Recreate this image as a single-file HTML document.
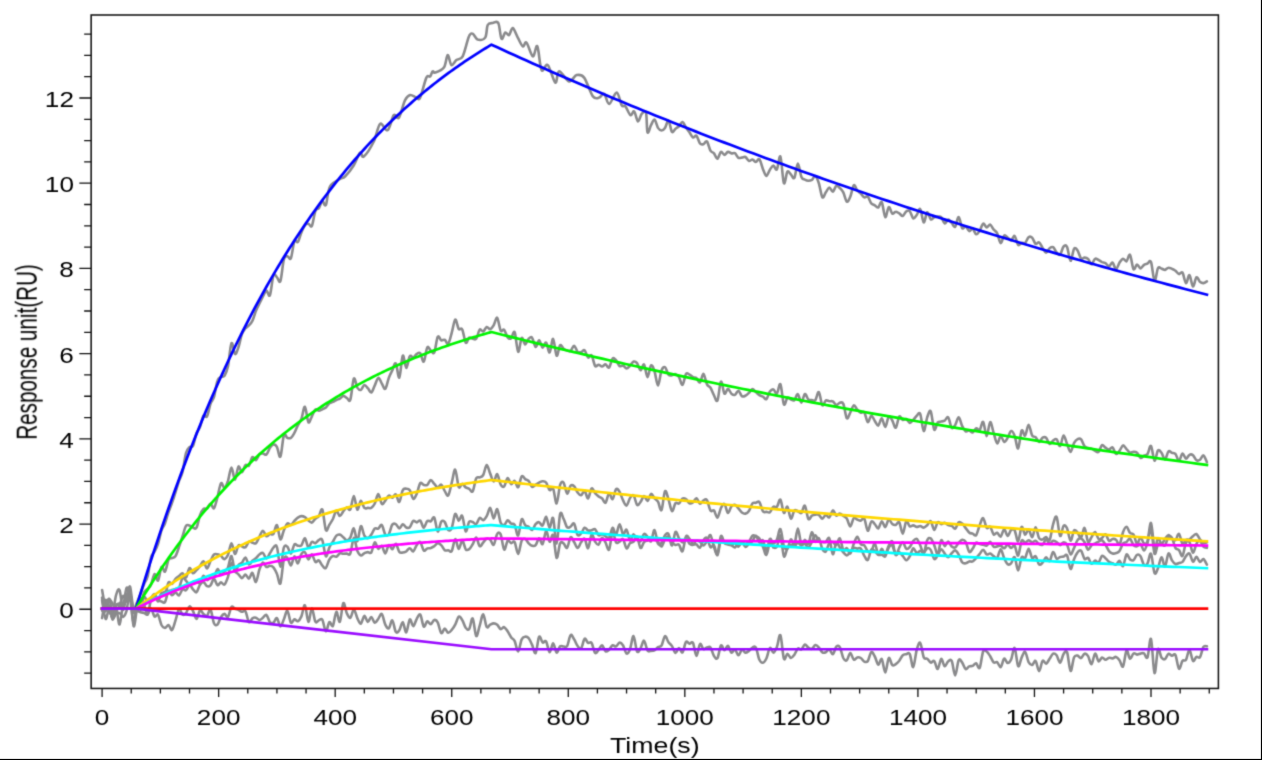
<!DOCTYPE html>
<html><head><meta charset="utf-8"><title>Sensorgram</title>
<style>html,body{margin:0;padding:0;background:#fff;}body{width:1262px;height:760px;overflow:hidden;font-family:"Liberation Sans",sans-serif;}svg{display:block;}</style>
</head><body>
<svg width="1262" height="760" viewBox="0 0 1262 760">
<defs><filter id="soft" x="-2%" y="-2%" width="104%" height="104%" color-interpolation-filters="sRGB"><feConvolveMatrix order="3" kernelMatrix="0.0225 0.1050 0.0225 0.1050 0.4900 0.1050 0.0225 0.1050 0.0225" divisor="1" edgeMode="none" preserveAlpha="false"/></filter></defs>
<rect x="0" y="0" width="1262" height="760" fill="#fff"/>
<rect x="1260.9" y="0" width="1.1" height="760" fill="#000"/>
<rect x="0" y="758.9" width="1262" height="1.1" fill="#000"/>
<g filter="url(#soft)">
<path d="M102.10,688.45v8.6 M131.24,688.45v5.0 M160.37,688.45v5.0 M189.51,688.45v5.0 M218.64,688.45v8.6 M247.78,688.45v5.0 M276.92,688.45v5.0 M306.05,688.45v5.0 M335.19,688.45v8.6 M364.32,688.45v5.0 M393.46,688.45v5.0 M422.60,688.45v5.0 M451.73,688.45v8.6 M480.87,688.45v5.0 M510.00,688.45v5.0 M539.14,688.45v5.0 M568.28,688.45v8.6 M597.41,688.45v5.0 M626.55,688.45v5.0 M655.68,688.45v5.0 M684.82,688.45v8.6 M713.96,688.45v5.0 M743.09,688.45v5.0 M772.23,688.45v5.0 M801.36,688.45v8.6 M830.50,688.45v5.0 M859.64,688.45v5.0 M888.77,688.45v5.0 M917.91,688.45v8.6 M947.04,688.45v5.0 M976.18,688.45v5.0 M1005.32,688.45v5.0 M1034.45,688.45v8.6 M1063.59,688.45v5.0 M1092.72,688.45v5.0 M1121.86,688.45v5.0 M1151.00,688.45v8.6 M1180.13,688.45v5.0 M1209.27,688.45v5.0 M91.15,673.18h-7.0 M91.15,651.88h-7.0 M91.15,630.57h-7.0 M91.15,609.27h-11.8 M91.15,587.97h-7.0 M91.15,566.66h-7.0 M91.15,545.36h-7.0 M91.15,524.06h-11.8 M91.15,502.75h-7.0 M91.15,481.45h-7.0 M91.15,460.15h-7.0 M91.15,438.84h-11.8 M91.15,417.54h-7.0 M91.15,396.24h-7.0 M91.15,374.93h-7.0 M91.15,353.63h-11.8 M91.15,332.32h-7.0 M91.15,311.02h-7.0 M91.15,289.72h-7.0 M91.15,268.41h-11.8 M91.15,247.11h-7.0 M91.15,225.81h-7.0 M91.15,204.50h-7.0 M91.15,183.20h-11.8 M91.15,161.90h-7.0 M91.15,140.59h-7.0 M91.15,119.29h-7.0 M91.15,97.99h-11.8 M91.15,76.68h-7.0 M91.15,55.38h-7.0 M91.15,34.08h-7.0" stroke="#111" stroke-width="1.3" fill="none"/>
<g fill="none" stroke="#8a8a8c" stroke-width="2.6" stroke-linejoin="round" stroke-linecap="round">
<path d="M102.1,610.7C102.7,609.4 104.4,605.1 105.6,603.2C106.8,601.3 107.9,599.0 109.1,599.1C110.3,599.2 111.4,602.0 112.6,603.9C113.8,605.8 114.9,610.3 116.1,610.5C117.3,610.7 118.4,607.8 119.6,605.4C120.7,602.9 121.9,596.5 123.1,595.9C124.2,595.2 125.4,600.7 126.6,601.3C127.7,601.9 128.9,598.4 130.1,599.7C131.2,601.0 132.4,608.6 133.6,609.0C134.7,609.4 135.9,604.9 137.1,602.3C138.2,599.7 139.4,596.5 140.6,593.5C141.7,590.4 142.9,586.9 144.1,584.0C145.2,581.2 146.4,580.8 147.6,576.4C148.7,572.0 149.9,561.7 151.0,557.6C152.2,553.4 153.4,553.9 154.5,551.6C155.7,549.3 156.9,547.3 158.0,543.8C159.2,540.2 160.4,533.7 161.5,530.2C162.7,526.8 163.9,526.3 165.0,523.2C166.2,520.2 167.4,515.3 168.5,512.0C169.7,508.6 170.9,506.2 172.0,502.9C173.2,499.6 174.4,495.8 175.5,492.1C176.7,488.5 177.9,484.3 179.0,480.9C180.2,477.5 181.3,476.6 182.5,471.9C183.7,467.3 184.8,457.1 186.0,453.0C187.2,448.9 188.3,448.4 189.5,447.2C190.7,446.0 191.8,448.2 193.0,445.9C194.2,443.5 195.3,436.3 196.5,433.2C197.7,430.0 198.8,430.0 200.0,427.1C201.2,424.2 202.3,417.5 203.5,415.7C204.7,413.9 205.8,418.3 207.0,416.3C208.2,414.3 209.3,407.0 210.5,403.8C211.7,400.5 212.8,400.8 214.0,396.9C215.1,393.1 216.3,383.9 217.5,380.6C218.6,377.2 219.8,377.7 221.0,376.9C222.1,376.1 223.3,377.5 224.5,375.8C225.6,374.0 226.8,371.8 228.0,366.3C229.1,360.9 230.3,345.2 231.5,343.2C232.6,341.1 233.8,353.3 235.0,354.0C236.1,354.7 237.3,350.5 238.5,347.1C239.6,343.8 240.8,337.0 242.0,333.9C243.1,330.7 244.3,329.7 245.4,328.3C246.6,326.9 247.8,326.7 248.9,325.4C250.1,324.2 251.3,323.3 252.4,320.8C253.6,318.4 254.8,313.8 255.9,310.9C257.1,308.0 258.3,305.9 259.4,303.5C260.6,301.1 261.8,298.6 262.9,296.4C264.1,294.3 265.3,290.8 266.4,290.6C267.6,290.4 268.8,297.8 269.9,295.2C271.1,292.7 272.3,278.4 273.4,275.4C274.6,272.4 275.8,276.2 276.9,277.2C278.1,278.1 279.2,284.0 280.4,281.0C281.6,278.0 282.7,263.5 283.9,259.4C285.1,255.3 286.2,256.4 287.4,256.2C288.6,256.0 289.7,260.6 290.9,258.1C292.1,255.6 293.2,243.9 294.4,241.2C295.6,238.5 296.7,243.3 297.9,241.9C299.1,240.4 300.2,235.2 301.4,232.5C302.6,229.7 303.7,226.7 304.9,225.3C306.1,223.8 307.2,223.7 308.4,223.8C309.5,223.9 310.7,228.1 311.9,225.9C313.0,223.8 314.2,213.9 315.4,211.0C316.5,208.0 317.7,209.7 318.9,208.1C320.0,206.4 321.2,201.6 322.4,201.1C323.5,200.6 324.6,207.5 325.9,205.0C327.1,202.6 327.6,190.9 330.0,186.5C332.4,182.2 337.5,180.7 340.0,179.0C342.5,177.3 342.7,178.8 345.0,176.5C347.3,174.2 351.3,169.2 353.8,165.2C356.3,161.3 358.4,154.2 360.0,152.7C361.7,151.3 361.5,158.4 363.8,156.5C366.1,154.6 371.1,146.9 373.8,141.5C376.5,136.0 377.8,125.8 380.1,123.9C382.4,122.1 385.3,131.7 387.6,130.2C389.9,128.7 392.0,117.3 393.8,115.2C395.7,113.1 397.0,120.2 398.9,117.7C400.7,115.2 403.2,103.9 405.1,100.2C407.0,96.4 408.2,95.6 410.1,95.1C412.0,94.7 414.7,97.2 416.4,97.6C418.0,98.1 418.5,101.0 420.1,97.6C421.8,94.3 424.7,81.2 426.4,77.6C428.1,74.1 429.1,77.4 430.2,76.4C431.2,75.3 431.8,72.0 432.7,71.4C433.5,70.7 433.3,73.2 435.2,72.6C437.0,72.0 441.8,70.5 443.9,67.6C446.0,64.7 446.4,55.5 447.7,55.1C448.9,54.7 450.0,64.3 451.4,65.1C452.9,65.9 454.6,61.6 456.4,60.1C458.3,58.6 460.6,60.3 462.7,56.3C464.8,52.4 467.3,40.1 469.0,36.3C470.6,32.5 471.3,33.3 472.7,33.8C474.2,34.3 475.6,38.9 477.7,39.6C479.8,40.2 483.6,40.0 485.2,37.6C486.9,35.1 486.5,27.5 487.7,25.0C489.0,22.6 491.0,23.4 492.7,23.0C494.5,22.7 496.8,20.4 498.3,23.0C499.7,25.7 500.3,37.2 501.5,38.8C502.7,40.4 504.0,33.2 505.3,32.5C506.5,31.9 507.8,35.8 509.0,35.1C510.3,34.3 511.3,27.6 512.8,28.0C514.2,28.5 516.1,34.5 517.8,37.6C519.5,40.6 521.3,45.5 522.8,46.3C524.2,47.2 524.9,40.9 526.5,42.6C528.2,44.2 531.0,55.7 532.8,56.3C534.6,57.0 535.9,44.0 537.3,46.3C538.8,48.6 539.8,67.0 541.6,70.1C543.3,73.2 545.5,63.0 547.8,65.1C550.1,67.2 553.5,81.6 555.3,82.6C557.2,83.7 556.8,71.6 559.1,71.4C561.4,71.1 566.2,80.7 569.1,81.4C572.0,82.0 574.1,75.7 576.6,75.1C579.1,74.5 581.4,74.1 584.1,77.6C586.8,81.2 590.4,93.1 592.9,96.4C595.4,99.7 597.3,98.1 599.2,97.6C601.0,97.2 602.5,92.8 604.2,93.9C605.8,94.9 607.1,104.1 609.2,103.9C611.3,103.7 614.6,92.4 616.7,92.6C618.8,92.8 620.2,102.9 621.7,105.2C623.1,107.5 624.0,104.7 625.4,106.4C626.9,108.1 629.0,114.3 630.5,115.2C631.9,116.0 633.0,110.4 634.2,111.4C635.5,112.5 636.7,121.0 638.0,121.4C639.2,121.8 640.4,115.4 641.7,113.9C643.1,112.5 645.0,109.6 646.0,112.7C646.9,115.7 646.7,130.2 647.5,132.3C648.4,134.4 649.9,127.3 651.0,125.2C652.2,123.1 653.4,119.1 654.5,119.5C655.7,119.9 656.8,126.0 658.0,127.9C659.2,129.7 660.3,130.5 661.5,130.5C662.7,130.5 663.8,129.7 665.0,128.0C666.2,126.4 667.3,120.0 668.5,120.7C669.7,121.3 670.8,130.6 672.0,131.9C673.2,133.2 674.3,129.6 675.5,128.7C676.7,127.7 677.8,127.3 679.0,126.2C680.2,125.1 681.3,121.8 682.5,122.0C683.7,122.2 684.8,125.9 686.0,127.6C687.2,129.3 688.3,130.7 689.5,132.3C690.6,134.0 691.8,136.9 693.0,137.5C694.1,138.0 695.3,134.7 696.5,135.7C697.6,136.7 698.8,142.0 700.0,143.5C701.1,144.9 702.3,144.5 703.5,144.2C704.6,143.9 705.8,140.4 707.0,141.5C708.1,142.6 709.3,148.8 710.5,150.7C711.6,152.7 712.8,152.0 714.0,153.3C715.1,154.6 716.3,159.0 717.5,158.7C718.6,158.5 719.8,152.4 720.9,151.8C722.1,151.2 723.3,154.9 724.4,154.9C725.6,154.9 726.8,152.1 727.9,151.9C729.1,151.6 730.3,153.1 731.4,153.4C732.6,153.6 733.8,152.5 734.9,153.2C736.1,154.0 737.3,157.1 738.4,157.8C739.6,158.5 740.8,157.8 741.9,157.6C743.1,157.5 744.3,156.5 745.4,157.0C746.6,157.6 747.8,160.5 748.9,160.9C750.1,161.3 751.3,159.3 752.4,159.5C753.6,159.7 754.7,162.0 755.9,162.0C757.1,162.0 758.2,158.1 759.4,159.3C760.6,160.4 761.7,166.1 762.9,168.9C764.1,171.7 765.2,175.7 766.4,175.9C767.6,176.0 768.7,171.4 769.9,169.7C771.1,168.0 772.2,165.7 773.4,165.6C774.6,165.6 775.7,171.0 776.9,169.4C778.1,167.9 779.2,154.2 780.4,156.5C781.6,158.8 782.7,180.5 783.9,183.1C785.0,185.6 786.2,173.1 787.4,171.7C788.5,170.2 789.7,173.4 790.9,174.4C792.0,175.5 793.2,179.7 794.4,177.8C795.5,176.0 796.7,163.7 797.9,163.5C799.0,163.4 800.2,174.2 801.4,176.9C802.5,179.6 803.7,178.9 804.9,179.6C806.0,180.2 807.2,180.7 808.4,180.8C809.5,180.8 810.7,180.7 811.9,179.9C813.0,179.1 814.2,175.5 815.3,176.1C816.5,176.6 817.7,179.6 818.8,183.1C820.0,186.7 821.2,195.7 822.3,197.2C823.5,198.8 824.7,194.0 825.8,192.3C827.0,190.7 828.2,187.6 829.3,187.5C830.5,187.4 831.7,192.0 832.8,191.7C834.0,191.4 835.2,186.4 836.3,185.8C837.5,185.2 838.7,187.0 839.8,188.1C841.0,189.2 842.2,190.2 843.3,192.4C844.5,194.7 845.7,200.9 846.8,201.6C848.0,202.3 849.1,199.4 850.3,196.7C851.5,194.0 852.6,186.3 853.8,185.3C855.0,184.2 856.1,189.1 857.3,190.5C858.5,191.9 859.6,192.4 860.8,193.5C862.0,194.7 863.1,196.9 864.3,197.4C865.5,197.9 866.6,195.6 867.8,196.6C869.0,197.6 870.1,201.9 871.3,203.4C872.5,204.8 873.6,204.6 874.8,205.3C876.0,206.0 877.1,208.0 878.3,207.5C879.4,207.0 880.6,200.6 881.8,202.2C882.9,203.8 884.1,216.3 885.3,217.1C886.4,217.9 887.6,207.7 888.8,207.1C889.9,206.5 891.1,212.8 892.3,213.6C893.4,214.4 894.6,211.8 895.8,211.8C896.9,211.7 898.1,212.8 899.3,213.4C900.4,214.1 901.6,216.3 902.8,215.9C903.9,215.6 905.1,212.2 906.3,211.4C907.4,210.6 908.6,210.0 909.7,211.1C910.9,212.3 912.1,217.7 913.2,218.4C914.4,219.0 915.6,216.6 916.7,215.1C917.9,213.5 919.1,207.9 920.2,209.1C921.4,210.3 922.6,221.7 923.7,222.3C924.9,222.8 926.1,212.8 927.2,212.3C928.4,211.8 929.6,218.5 930.7,219.3C931.9,220.1 933.1,217.6 934.2,217.2C935.4,216.7 936.6,216.6 937.7,216.6C938.9,216.6 940.1,216.1 941.2,217.2C942.4,218.3 943.5,223.0 944.7,223.4C945.9,223.8 947.0,219.7 948.2,219.6C949.4,219.6 950.5,221.7 951.7,222.9C952.9,224.1 954.0,227.7 955.2,226.7C956.4,225.7 957.5,216.8 958.7,217.1C959.9,217.3 961.0,226.5 962.2,228.1C963.4,229.6 964.5,225.9 965.7,226.4C966.9,226.9 968.0,230.7 969.2,231.1C970.4,231.5 971.5,228.2 972.7,228.7C973.8,229.3 975.0,234.0 976.2,234.3C977.3,234.7 978.5,232.5 979.7,230.7C980.8,229.0 982.0,224.2 983.2,223.7C984.3,223.1 985.5,227.2 986.7,227.4C987.8,227.6 989.0,224.3 990.2,224.6C991.3,225.0 992.5,228.2 993.7,229.6C994.8,231.1 996.0,231.0 997.2,233.3C998.3,235.5 999.5,242.7 1000.7,243.1C1001.8,243.5 1003.0,236.5 1004.2,235.6C1005.3,234.7 1006.5,236.8 1007.6,237.6C1008.8,238.4 1010.0,240.7 1011.1,240.4C1012.3,240.1 1013.5,235.3 1014.6,236.0C1015.8,236.8 1017.0,243.7 1018.1,244.8C1019.3,246.0 1020.5,243.2 1021.6,242.9C1022.8,242.6 1024.0,243.9 1025.1,243.0C1026.3,242.0 1027.5,238.1 1028.6,237.2C1029.8,236.3 1031.0,236.5 1032.1,237.7C1033.3,238.8 1034.5,243.1 1035.6,243.9C1036.8,244.6 1037.9,241.6 1039.1,242.3C1040.3,242.9 1041.4,246.1 1042.6,247.9C1043.8,249.6 1044.9,252.7 1046.1,252.8C1047.3,252.8 1048.4,249.1 1049.6,248.2C1050.8,247.3 1051.9,246.5 1053.1,247.2C1054.3,247.9 1055.4,251.1 1056.6,252.3C1057.8,253.5 1058.9,255.6 1060.1,254.6C1061.3,253.6 1062.4,247.7 1063.6,246.5C1064.8,245.2 1065.9,244.7 1067.1,247.1C1068.2,249.4 1069.4,260.5 1070.6,260.8C1071.7,261.1 1072.9,250.4 1074.1,248.7C1075.2,247.0 1076.4,248.9 1077.6,250.6C1078.7,252.2 1079.9,257.4 1081.1,258.6C1082.2,259.7 1083.4,257.5 1084.6,257.6C1085.7,257.7 1086.9,257.9 1088.1,259.0C1089.2,260.0 1090.4,264.1 1091.6,264.1C1092.7,264.0 1093.9,259.5 1095.1,258.8C1096.2,258.1 1097.4,259.5 1098.6,260.0C1099.7,260.6 1100.9,261.6 1102.0,262.1C1103.2,262.6 1104.4,262.5 1105.5,263.2C1106.7,263.9 1107.9,266.4 1109.0,266.3C1110.2,266.2 1111.4,262.0 1112.5,262.5C1113.7,263.0 1114.9,269.2 1116.0,269.2C1117.2,269.2 1118.4,264.4 1119.5,262.6C1120.7,260.9 1121.9,258.9 1123.0,258.7C1124.2,258.5 1125.4,261.9 1126.5,261.3C1127.7,260.6 1128.9,253.5 1130.0,254.8C1131.2,256.1 1132.3,267.4 1133.5,269.1C1134.7,270.7 1135.8,264.6 1137.0,264.5C1138.2,264.4 1139.3,268.3 1140.5,268.4C1141.7,268.4 1142.8,265.6 1144.0,264.8C1145.2,264.0 1146.3,264.0 1147.5,263.5C1148.7,263.1 1149.8,259.2 1151.0,262.0C1152.2,264.9 1153.3,279.7 1154.5,280.7C1155.7,281.8 1156.8,270.2 1158.0,268.2C1159.2,266.2 1160.3,268.3 1161.5,268.6C1162.7,268.8 1163.8,270.0 1165.0,269.9C1166.1,269.7 1167.3,267.8 1168.5,267.7C1169.6,267.5 1170.8,268.4 1172.0,268.9C1173.1,269.4 1174.3,269.9 1175.5,270.8C1176.6,271.6 1177.8,273.8 1179.0,274.1C1180.1,274.4 1181.3,271.1 1182.5,272.6C1183.6,274.2 1184.8,282.8 1186.0,283.2C1187.1,283.6 1188.3,274.6 1189.5,275.2C1190.6,275.7 1191.8,286.1 1193.0,286.5C1194.1,286.8 1195.3,278.1 1196.4,277.3C1197.6,276.6 1198.8,280.8 1199.9,281.8C1201.1,282.8 1202.3,283.2 1203.4,283.1C1204.6,283.0 1206.4,281.6 1206.9,281.3"/>
<path d="M102.1,597.6C102.7,598.4 104.4,601.0 105.6,602.5C106.8,604.0 107.9,603.9 109.1,606.6C110.3,609.2 111.4,617.1 112.6,618.3C113.8,619.5 114.9,614.7 116.1,613.8C117.3,613.0 118.4,612.6 119.6,613.1C120.7,613.6 121.9,617.3 123.1,616.9C124.2,616.5 125.4,614.8 126.6,610.7C127.7,606.6 128.9,589.6 130.1,592.1C131.2,594.7 132.4,623.4 133.6,626.1C134.7,628.9 135.9,612.2 137.1,608.7C138.2,605.2 139.4,607.8 140.6,605.1C141.7,602.4 142.9,595.3 144.1,592.6C145.2,589.9 146.4,590.3 147.6,589.0C148.7,587.7 149.9,587.3 151.0,584.8C152.2,582.3 153.4,574.9 154.5,574.2C155.7,573.4 156.9,581.7 158.0,580.5C159.2,579.3 160.4,568.4 161.5,567.0C162.7,565.5 163.9,572.8 165.0,571.6C166.2,570.4 167.4,562.0 168.5,559.7C169.7,557.4 170.9,558.6 172.0,558.0C173.2,557.4 174.4,557.9 175.5,556.1C176.7,554.2 177.9,550.2 179.0,546.9C180.2,543.7 181.3,539.9 182.5,536.4C183.7,532.9 184.8,527.7 186.0,525.9C187.2,524.1 188.3,525.3 189.5,525.6C190.7,525.8 191.8,527.3 193.0,527.6C194.2,528.0 195.3,529.7 196.5,527.7C197.7,525.6 198.8,518.4 200.0,515.3C201.2,512.1 202.3,510.0 203.5,508.9C204.7,507.8 205.8,509.6 207.0,508.7C208.2,507.8 209.3,503.6 210.5,503.5C211.7,503.4 212.8,509.3 214.0,508.2C215.1,507.1 216.3,501.3 217.5,497.1C218.6,492.9 219.8,484.7 221.0,483.2C222.1,481.7 223.3,488.6 224.5,488.2C225.6,487.8 226.8,484.3 228.0,480.9C229.1,477.4 230.3,467.8 231.5,467.6C232.6,467.4 233.8,479.8 235.0,479.7C236.1,479.5 237.3,467.9 238.5,466.6C239.6,465.4 240.8,472.4 242.0,472.1C243.1,471.9 244.3,466.1 245.4,465.1C246.6,464.0 247.8,467.0 248.9,465.6C250.1,464.3 251.3,458.0 252.4,457.1C253.6,456.2 254.8,460.7 255.9,460.2C257.1,459.8 258.3,455.5 259.4,454.3C260.6,453.2 261.8,453.5 262.9,453.5C264.1,453.6 265.3,455.5 266.4,454.6C267.6,453.6 268.8,449.5 269.9,447.8C271.1,446.1 272.3,444.6 273.4,444.4C274.6,444.3 275.8,444.8 276.9,446.9C278.1,448.9 279.2,458.5 280.4,456.6C281.6,454.7 282.7,438.3 283.9,435.2C285.1,432.1 286.2,437.4 287.4,437.9C288.6,438.3 289.7,438.7 290.9,437.9C292.1,437.1 293.2,435.0 294.4,432.9C295.6,430.8 296.7,427.5 297.9,425.2C299.1,422.9 300.2,422.1 301.4,419.0C302.6,415.9 303.7,406.3 304.9,406.8C306.1,407.3 307.2,420.6 308.4,422.2C309.5,423.8 310.7,418.4 311.9,416.3C313.0,414.2 314.2,410.4 315.4,409.5C316.5,408.6 317.7,410.8 318.9,410.7C320.0,410.7 321.2,409.7 322.4,409.2C323.5,408.7 324.7,408.5 325.9,407.5C327.0,406.5 328.2,404.3 329.4,403.3C330.5,402.4 331.7,402.5 332.9,401.9C334.0,401.4 335.2,400.6 336.4,400.0C337.5,399.4 338.7,399.3 339.8,398.6C341.0,397.9 342.2,396.0 343.3,395.9C344.5,395.8 345.7,397.2 346.8,397.9C348.0,398.5 349.2,402.9 350.3,399.7C351.5,396.5 352.7,380.7 353.8,378.7C355.0,376.6 356.2,385.7 357.3,387.6C358.5,389.4 359.7,390.4 360.8,389.9C362.0,389.5 363.2,385.3 364.3,385.0C365.5,384.7 366.7,386.9 367.8,388.2C369.0,389.4 370.2,393.0 371.3,392.5C372.5,392.0 373.6,387.8 374.8,385.4C376.0,382.9 377.1,378.2 378.3,377.9C379.5,377.5 380.6,381.6 381.8,383.5C383.0,385.3 384.1,389.8 385.3,388.8C386.5,387.9 387.6,380.9 388.8,377.9C390.0,374.8 391.1,372.8 392.3,370.4C393.5,367.9 394.6,362.2 395.8,363.4C397.0,364.6 398.1,378.8 399.3,377.5C400.5,376.2 401.6,357.2 402.8,355.6C403.9,354.0 405.1,367.8 406.3,367.9C407.4,368.0 408.6,357.9 409.8,356.2C410.9,354.5 412.1,358.0 413.3,357.6C414.4,357.2 415.6,354.6 416.8,353.9C417.9,353.1 419.1,352.0 420.3,353.3C421.4,354.6 422.6,362.6 423.8,361.6C424.9,360.6 426.1,349.2 427.3,347.4C428.4,345.5 429.6,349.7 430.8,350.5C431.9,351.3 433.1,354.6 434.3,352.3C435.4,350.0 436.6,338.9 437.7,336.9C438.9,334.9 440.1,339.8 441.2,340.3C442.4,340.8 443.6,339.2 444.7,339.8C445.9,340.3 447.1,344.9 448.2,343.8C449.4,342.6 450.6,336.9 451.7,332.9C452.9,328.9 454.1,320.3 455.2,319.6C456.4,319.0 457.6,327.3 458.7,328.9C459.9,330.5 461.1,327.0 462.2,329.3C463.4,331.6 464.6,341.3 465.7,342.7C466.9,344.1 468.0,338.4 469.2,337.7C470.4,337.0 471.5,338.5 472.7,338.6C473.9,338.8 475.0,340.2 476.2,338.7C477.4,337.2 478.5,330.9 479.7,329.7C480.9,328.5 482.0,332.0 483.2,331.5C484.4,331.1 485.5,327.4 486.7,327.0C487.9,326.6 489.0,329.6 490.2,329.3C491.4,329.0 492.5,327.1 493.7,325.2C494.9,323.3 496.0,316.9 497.2,317.8C498.3,318.7 499.5,328.6 500.7,330.6C501.8,332.7 503.0,328.7 504.2,329.9C505.3,331.0 506.5,336.1 507.7,337.4C508.8,338.8 510.0,339.1 511.2,338.2C512.3,337.4 513.5,330.0 514.7,332.3C515.8,334.6 517.0,350.9 518.2,351.8C519.3,352.8 520.5,339.2 521.7,338.0C522.8,336.7 524.0,344.2 525.2,344.4C526.3,344.5 527.5,339.9 528.7,338.8C529.8,337.7 531.0,336.4 532.1,337.8C533.3,339.1 534.5,346.6 535.6,347.0C536.8,347.4 538.0,340.1 539.1,340.2C540.3,340.3 541.5,347.2 542.6,347.6C543.8,348.1 545.0,341.9 546.1,342.7C547.3,343.5 548.5,353.1 549.6,352.4C550.8,351.8 552.0,338.3 553.1,338.9C554.3,339.4 555.5,354.6 556.6,355.7C557.8,356.7 559.0,346.3 560.1,345.2C561.3,344.0 562.4,347.8 563.6,348.7C564.8,349.6 565.9,350.2 567.1,350.6C568.3,351.0 569.4,351.6 570.6,350.8C571.8,350.0 572.9,345.6 574.1,345.7C575.3,345.8 576.4,350.6 577.6,351.7C578.8,352.7 579.9,352.3 581.1,352.1C582.3,351.9 583.4,349.4 584.6,350.3C585.8,351.2 586.9,356.7 588.1,357.5C589.3,358.4 590.4,354.0 591.6,355.4C592.8,356.8 593.9,364.3 595.1,365.9C596.2,367.5 597.4,364.6 598.6,364.7C599.7,364.8 600.9,366.6 602.1,366.5C603.2,366.5 604.4,364.2 605.6,364.4C606.7,364.6 607.9,368.6 609.1,367.6C610.2,366.7 611.4,359.9 612.6,358.6C613.7,357.4 614.9,359.0 616.1,360.3C617.2,361.5 618.4,365.2 619.6,366.1C620.7,367.0 621.9,365.1 623.1,365.5C624.2,365.9 625.4,368.5 626.5,368.5C627.7,368.5 628.9,366.8 630.0,365.6C631.2,364.5 632.4,362.1 633.5,361.6C634.7,361.2 635.9,361.7 637.0,363.1C638.2,364.6 639.4,370.1 640.5,370.3C641.7,370.5 642.9,363.4 644.0,364.5C645.2,365.6 646.4,376.9 647.5,377.1C648.7,377.2 649.9,366.4 651.0,365.4C652.2,364.5 653.4,367.8 654.5,371.2C655.7,374.5 656.8,385.5 658.0,385.4C659.2,385.2 660.3,373.5 661.5,370.5C662.7,367.5 663.8,366.5 665.0,367.2C666.2,367.8 667.3,373.2 668.5,374.6C669.7,376.0 670.8,375.4 672.0,375.3C673.2,375.2 674.3,373.9 675.5,374.2C676.7,374.5 677.8,375.3 679.0,377.1C680.2,378.9 681.3,385.4 682.5,384.9C683.7,384.4 684.8,375.8 686.0,374.1C687.2,372.4 688.3,374.1 689.5,374.6C690.6,375.1 691.8,376.5 693.0,377.1C694.1,377.8 695.3,377.4 696.5,378.2C697.6,379.1 698.8,383.1 700.0,382.4C701.1,381.7 702.3,373.6 703.5,373.9C704.6,374.3 705.8,382.1 707.0,384.4C708.1,386.7 709.3,386.0 710.5,387.8C711.6,389.6 712.8,393.2 714.0,395.3C715.1,397.4 716.3,402.7 717.5,400.5C718.6,398.2 719.8,382.8 720.9,381.6C722.1,380.5 723.3,392.4 724.4,393.6C725.6,394.8 726.8,388.8 727.9,388.8C729.1,388.8 730.3,392.6 731.4,393.7C732.6,394.7 733.8,395.4 734.9,394.9C736.1,394.4 737.3,390.5 738.4,390.7C739.6,391.0 740.8,395.4 741.9,396.2C743.1,397.0 744.3,396.3 745.4,395.7C746.6,395.2 747.8,394.0 748.9,392.9C750.1,391.8 751.3,389.2 752.4,389.1C753.6,388.9 754.7,391.1 755.9,392.1C757.1,393.1 758.2,394.4 759.4,395.1C760.6,395.9 761.7,395.9 762.9,396.6C764.1,397.2 765.2,400.0 766.4,399.1C767.6,398.3 768.7,393.1 769.9,391.5C771.1,389.9 772.2,389.1 773.4,389.4C774.6,389.7 775.7,394.4 776.9,393.5C778.1,392.7 779.2,382.6 780.4,384.3C781.6,386.1 782.7,402.0 783.9,404.3C785.0,406.5 786.2,398.6 787.4,397.8C788.5,397.0 789.7,399.1 790.9,399.5C792.0,399.9 793.2,401.0 794.4,400.1C795.5,399.2 796.7,393.6 797.9,394.1C799.0,394.5 800.2,402.7 801.4,402.6C802.5,402.6 803.7,394.5 804.9,394.0C806.0,393.5 807.2,398.6 808.4,399.6C809.5,400.6 810.7,399.9 811.9,400.0C813.0,400.1 814.2,401.5 815.3,400.2C816.5,398.9 817.7,391.3 818.8,392.1C820.0,393.0 821.2,403.8 822.3,405.2C823.5,406.6 824.7,401.2 825.8,400.5C827.0,399.9 828.2,401.1 829.3,401.2C830.5,401.4 831.7,400.8 832.8,401.4C834.0,402.1 835.2,404.7 836.3,405.0C837.5,405.2 838.7,403.0 839.8,402.8C841.0,402.6 842.2,401.3 843.3,403.9C844.5,406.4 845.7,416.7 846.8,418.2C848.0,419.6 849.1,414.7 850.3,412.5C851.5,410.4 852.6,405.9 853.8,405.4C855.0,404.9 856.1,408.5 857.3,409.7C858.5,410.9 859.6,412.2 860.8,412.7C862.0,413.1 863.1,410.8 864.3,412.4C865.5,413.9 866.6,421.5 867.8,422.1C869.0,422.6 870.1,415.8 871.3,415.6C872.5,415.4 873.6,419.3 874.8,420.9C876.0,422.6 877.1,426.0 878.3,425.6C879.4,425.1 880.6,418.2 881.8,418.4C882.9,418.6 884.1,427.2 885.3,426.9C886.4,426.6 887.6,417.6 888.8,416.5C889.9,415.4 891.1,418.7 892.3,420.5C893.4,422.4 894.6,428.4 895.8,427.7C896.9,427.0 898.1,417.8 899.3,416.5C900.4,415.2 901.6,419.6 902.8,420.0C903.9,420.4 905.1,418.5 906.3,419.0C907.4,419.5 908.6,422.7 909.7,422.9C910.9,423.0 912.1,421.2 913.2,420.0C914.4,418.8 915.6,416.7 916.7,415.7C917.9,414.7 919.1,411.4 920.2,413.9C921.4,416.5 922.6,430.4 923.7,431.0C924.9,431.6 926.1,420.6 927.2,417.3C928.4,414.1 929.6,409.3 930.7,411.3C931.9,413.4 933.1,427.7 934.2,429.5C935.4,431.4 936.6,423.9 937.7,422.5C938.9,421.2 940.1,421.9 941.2,421.6C942.4,421.3 943.5,421.3 944.7,420.6C945.9,419.9 947.0,416.2 948.2,417.4C949.4,418.6 950.5,426.6 951.7,427.9C952.9,429.1 954.0,426.7 955.2,425.0C956.4,423.2 957.5,417.1 958.7,417.3C959.9,417.5 961.0,423.7 962.2,426.1C963.4,428.4 964.5,430.6 965.7,431.3C966.9,432.1 968.0,430.2 969.2,430.4C970.4,430.6 971.5,432.8 972.7,432.5C973.8,432.1 975.0,428.6 976.2,428.2C977.3,427.8 978.5,431.2 979.7,430.1C980.8,429.1 982.0,420.9 983.2,421.9C984.3,422.9 985.5,436.0 986.7,436.1C987.8,436.1 989.0,422.7 990.2,422.1C991.3,421.6 992.5,429.5 993.7,433.1C994.8,436.6 996.0,442.8 997.2,443.3C998.3,443.8 999.5,436.2 1000.7,436.0C1001.8,435.7 1003.0,441.6 1004.2,441.9C1005.3,442.2 1006.5,439.7 1007.6,437.9C1008.8,436.1 1010.0,431.4 1011.1,431.1C1012.3,430.7 1013.5,432.9 1014.6,435.8C1015.8,438.7 1017.0,449.3 1018.1,448.4C1019.3,447.6 1020.5,432.8 1021.6,430.7C1022.8,428.5 1024.0,436.6 1025.1,435.6C1026.3,434.6 1027.5,424.8 1028.6,424.8C1029.8,424.8 1031.0,433.4 1032.1,435.5C1033.3,437.5 1034.5,436.1 1035.6,437.1C1036.8,438.2 1037.9,441.8 1039.1,441.9C1040.3,442.0 1041.4,438.4 1042.6,437.7C1043.8,437.0 1044.9,436.7 1046.1,437.7C1047.3,438.8 1048.4,443.5 1049.6,443.9C1050.8,444.4 1051.9,441.4 1053.1,440.6C1054.3,439.8 1055.4,438.4 1056.6,439.3C1057.8,440.2 1058.9,446.6 1060.1,446.0C1061.3,445.3 1062.4,435.8 1063.6,435.5C1064.8,435.2 1065.9,441.3 1067.1,444.1C1068.2,446.8 1069.4,452.1 1070.6,451.9C1071.7,451.7 1072.9,445.1 1074.1,442.9C1075.2,440.8 1076.4,439.7 1077.6,439.1C1078.7,438.5 1079.9,438.1 1081.1,439.3C1082.2,440.6 1083.4,444.9 1084.6,446.4C1085.7,447.8 1086.9,447.7 1088.1,448.0C1089.2,448.4 1090.4,448.1 1091.6,448.6C1092.7,449.1 1093.9,450.2 1095.1,450.8C1096.2,451.3 1097.4,452.8 1098.6,451.8C1099.7,450.9 1100.9,445.9 1102.0,445.2C1103.2,444.5 1104.4,447.0 1105.5,447.7C1106.7,448.5 1107.9,449.6 1109.0,449.6C1110.2,449.5 1111.4,446.7 1112.5,447.4C1113.7,448.1 1114.9,453.3 1116.0,453.9C1117.2,454.4 1118.4,452.3 1119.5,450.9C1120.7,449.5 1121.9,445.7 1123.0,445.4C1124.2,445.1 1125.4,447.9 1126.5,449.1C1127.7,450.3 1128.9,452.2 1130.0,452.7C1131.2,453.1 1132.3,451.8 1133.5,451.8C1134.7,451.8 1135.8,451.6 1137.0,452.7C1138.2,453.7 1139.3,457.3 1140.5,457.8C1141.7,458.4 1142.8,456.3 1144.0,455.7C1145.2,455.1 1146.3,455.8 1147.5,454.1C1148.7,452.5 1149.8,444.8 1151.0,445.9C1152.2,447.0 1153.3,459.9 1154.5,460.6C1155.7,461.3 1156.8,451.7 1158.0,450.4C1159.2,449.1 1160.3,451.3 1161.5,452.8C1162.7,454.3 1163.8,459.7 1165.0,459.5C1166.1,459.2 1167.3,452.5 1168.5,451.4C1169.6,450.3 1170.8,452.4 1172.0,452.9C1173.1,453.3 1174.3,452.7 1175.5,454.0C1176.6,455.3 1177.8,460.9 1179.0,460.8C1180.1,460.7 1181.3,453.9 1182.5,453.6C1183.6,453.2 1184.8,458.5 1186.0,458.7C1187.1,458.9 1188.3,455.4 1189.5,454.8C1190.6,454.2 1191.8,454.3 1193.0,455.3C1194.1,456.2 1195.3,459.5 1196.4,460.2C1197.6,461.0 1198.8,460.6 1199.9,459.8C1201.1,459.0 1202.3,455.0 1203.4,455.4C1204.6,455.8 1206.4,461.1 1206.9,462.2"/>
<path d="M102.1,600.6C102.7,603.6 104.4,617.5 105.6,618.9C106.8,620.3 107.9,609.2 109.1,609.0C110.3,608.8 111.4,618.2 112.6,617.6C113.8,616.9 114.9,607.3 116.1,605.1C117.3,603.0 118.4,605.0 119.6,604.8C120.7,604.6 121.9,604.6 123.1,603.8C124.2,603.1 125.4,602.0 126.6,600.5C127.7,599.1 128.9,593.4 130.1,595.1C131.2,596.8 132.4,609.1 133.6,610.6C134.7,612.1 135.9,606.1 137.1,604.2C138.2,602.2 139.4,598.4 140.6,598.7C141.7,598.9 142.9,605.2 144.1,605.5C145.2,605.8 146.4,601.7 147.6,600.6C148.7,599.5 149.9,600.0 151.0,599.1C152.2,598.2 153.4,594.7 154.5,595.1C155.7,595.5 156.9,601.7 158.0,601.4C159.2,601.0 160.4,594.1 161.5,593.0C162.7,591.9 163.9,596.6 165.0,594.8C166.2,593.1 167.4,584.3 168.5,582.5C169.7,580.7 170.9,584.5 172.0,583.9C173.2,583.3 174.4,580.2 175.5,578.9C176.7,577.6 177.9,577.0 179.0,576.0C180.2,575.1 181.3,573.0 182.5,573.3C183.7,573.5 184.8,578.4 186.0,577.5C187.2,576.7 188.3,568.9 189.5,568.2C190.7,567.4 191.8,572.8 193.0,573.2C194.2,573.5 195.3,571.2 196.5,570.1C197.7,568.9 198.8,567.5 200.0,566.0C201.2,564.6 202.3,560.8 203.5,561.2C204.7,561.6 205.8,568.5 207.0,568.4C208.2,568.4 209.3,563.3 210.5,561.0C211.7,558.7 212.8,555.6 214.0,554.5C215.1,553.4 216.3,554.1 217.5,554.4C218.6,554.6 219.8,555.2 221.0,556.0C222.1,556.8 223.3,559.3 224.5,559.1C225.6,558.9 226.8,557.4 228.0,554.8C229.1,552.1 230.3,543.4 231.5,543.2C232.6,543.1 233.8,553.5 235.0,553.9C236.1,554.3 237.3,546.7 238.5,545.5C239.6,544.3 240.8,546.2 242.0,546.5C243.1,546.8 244.3,548.1 245.4,547.3C246.6,546.5 247.8,542.6 248.9,541.8C250.1,541.0 251.3,542.4 252.4,542.6C253.6,542.8 254.8,544.2 255.9,543.2C257.1,542.2 258.3,538.8 259.4,536.7C260.6,534.6 261.8,530.8 262.9,530.8C264.1,530.7 265.3,535.7 266.4,536.2C267.6,536.7 268.8,534.3 269.9,533.9C271.1,533.6 272.3,535.4 273.4,533.9C274.6,532.4 275.8,524.2 276.9,525.1C278.1,526.0 279.2,538.4 280.4,539.3C281.6,540.1 282.7,532.8 283.9,530.2C285.1,527.5 286.2,524.4 287.4,523.5C288.6,522.6 289.7,525.5 290.9,525.0C292.1,524.6 293.2,522.2 294.4,520.9C295.6,519.7 296.7,518.4 297.9,517.6C299.1,516.8 300.2,516.2 301.4,516.1C302.6,516.0 303.7,516.4 304.9,517.1C306.1,517.8 307.2,519.6 308.4,520.5C309.5,521.4 310.7,522.9 311.9,522.6C313.0,522.3 314.2,519.8 315.4,518.8C316.5,517.7 317.7,517.6 318.9,516.1C320.0,514.6 321.2,507.3 322.4,509.7C323.5,512.0 324.7,527.6 325.9,530.1C327.0,532.6 328.2,526.6 329.4,524.8C330.5,522.9 331.7,521.3 332.9,519.0C334.0,516.7 335.2,511.3 336.4,510.8C337.5,510.3 338.7,516.0 339.8,516.0C341.0,516.1 342.2,512.7 343.3,511.2C344.5,509.8 345.7,507.8 346.8,507.5C348.0,507.2 349.2,511.3 350.3,509.4C351.5,507.5 352.7,496.0 353.8,496.0C355.0,496.1 356.2,508.8 357.3,509.6C358.5,510.4 359.7,501.1 360.8,500.8C362.0,500.6 363.2,506.7 364.3,507.9C365.5,509.0 366.7,507.9 367.8,507.9C369.0,507.9 370.2,508.6 371.3,507.9C372.5,507.2 373.6,505.8 374.8,503.5C376.0,501.2 377.1,494.0 378.3,494.1C379.5,494.2 380.6,502.8 381.8,503.9C383.0,505.0 384.1,502.0 385.3,500.6C386.5,499.2 387.6,496.1 388.8,495.6C390.0,495.1 391.1,497.9 392.3,497.7C393.5,497.5 394.6,493.6 395.8,494.3C397.0,495.0 398.1,502.6 399.3,501.9C400.5,501.2 401.6,492.3 402.8,490.1C403.9,487.9 405.1,488.7 406.3,488.7C407.4,488.8 408.6,488.6 409.8,490.3C410.9,491.9 412.1,498.3 413.3,498.8C414.4,499.4 415.6,496.2 416.8,493.6C417.9,491.0 419.1,484.6 420.3,483.1C421.4,481.7 422.6,484.6 423.8,484.9C424.9,485.2 426.1,485.7 427.3,484.9C428.4,484.1 429.6,480.2 430.8,480.1C431.9,479.9 433.1,482.7 434.3,483.9C435.4,485.1 436.6,487.4 437.7,487.6C438.9,487.7 440.1,484.1 441.2,484.7C442.4,485.2 443.6,489.1 444.7,490.9C445.9,492.7 447.1,496.8 448.2,495.5C449.4,494.1 450.6,487.2 451.7,482.9C452.9,478.6 454.1,468.9 455.2,469.6C456.4,470.3 457.6,484.6 458.7,487.0C459.9,489.4 461.1,483.8 462.2,483.9C463.4,484.0 464.6,486.6 465.7,487.4C466.9,488.3 468.0,488.2 469.2,488.8C470.4,489.5 471.5,493.0 472.7,491.2C473.9,489.5 475.0,480.7 476.2,478.4C477.4,476.1 478.5,477.9 479.7,477.4C480.9,476.8 482.0,477.1 483.2,475.0C484.4,473.0 485.5,465.4 486.7,465.1C487.9,464.9 489.0,470.9 490.2,473.6C491.4,476.3 492.5,481.4 493.7,481.5C494.9,481.6 496.0,473.7 497.2,474.2C498.3,474.7 499.5,482.6 500.7,484.6C501.8,486.6 503.0,487.5 504.2,486.4C505.3,485.4 506.5,478.5 507.7,478.1C508.8,477.7 510.0,483.8 511.2,484.2C512.3,484.7 513.5,480.3 514.7,480.9C515.8,481.4 517.0,488.0 518.2,487.2C519.3,486.5 520.5,477.6 521.7,476.3C522.8,474.9 524.0,478.3 525.2,479.1C526.3,479.9 527.5,479.7 528.7,481.0C529.8,482.3 531.0,486.3 532.1,486.9C533.3,487.5 534.5,485.5 535.6,484.7C536.8,484.0 538.0,483.2 539.1,482.6C540.3,482.0 541.5,481.2 542.6,481.2C543.8,481.2 545.0,481.0 546.1,482.5C547.3,484.0 548.5,489.1 549.6,490.1C550.8,491.1 552.0,486.2 553.1,488.5C554.3,490.7 555.5,504.0 556.6,503.4C557.8,502.8 559.0,488.3 560.1,484.8C561.3,481.3 562.4,481.2 563.6,482.7C564.8,484.2 565.9,493.1 567.1,493.6C568.3,494.1 569.4,486.9 570.6,485.7C571.8,484.4 572.9,485.0 574.1,486.1C575.3,487.3 576.4,491.0 577.6,492.5C578.8,494.1 579.9,495.5 581.1,495.3C582.3,495.0 583.4,490.5 584.6,491.0C585.8,491.5 586.9,498.9 588.1,498.4C589.3,498.0 590.4,489.4 591.6,488.5C592.8,487.6 593.9,491.7 595.1,493.1C596.2,494.4 597.4,495.5 598.6,496.4C599.7,497.3 600.9,497.4 602.1,498.4C603.2,499.5 604.4,503.6 605.6,502.7C606.7,501.9 607.9,493.8 609.1,493.3C610.2,492.7 611.4,499.9 612.6,499.2C613.7,498.5 614.9,490.4 616.1,489.1C617.2,487.9 618.4,489.9 619.6,491.8C620.7,493.7 621.9,498.1 623.1,500.4C624.2,502.7 625.4,506.0 626.5,505.6C627.7,505.2 628.9,499.8 630.0,498.1C631.2,496.4 632.4,494.2 633.5,495.3C634.7,496.4 635.9,503.6 637.0,504.8C638.2,505.9 639.4,503.5 640.5,502.0C641.7,500.6 642.9,496.2 644.0,496.0C645.2,495.8 646.4,501.3 647.5,501.0C648.7,500.6 649.9,494.3 651.0,493.9C652.2,493.4 653.4,497.0 654.5,498.3C655.7,499.6 656.8,499.7 658.0,501.7C659.2,503.7 660.3,511.8 661.5,510.1C662.7,508.4 663.8,493.0 665.0,491.3C666.2,489.5 667.3,496.1 668.5,499.4C669.7,502.7 670.8,510.5 672.0,511.1C673.2,511.7 674.3,504.4 675.5,503.1C676.7,501.8 677.8,504.2 679.0,503.5C680.2,502.7 681.3,499.3 682.5,498.5C683.7,497.8 684.8,498.4 686.0,499.2C687.2,499.9 688.3,502.7 689.5,503.2C690.6,503.7 691.8,503.1 693.0,502.3C694.1,501.5 695.3,498.1 696.5,498.3C697.6,498.6 698.8,503.4 700.0,503.7C701.1,504.1 702.3,500.9 703.5,500.3C704.6,499.7 705.8,498.5 707.0,500.2C708.1,501.9 709.3,508.9 710.5,510.6C711.6,512.3 712.8,509.3 714.0,510.5C715.1,511.7 716.3,518.0 717.5,517.6C718.6,517.2 719.8,510.5 720.9,508.2C722.1,506.0 723.3,503.2 724.4,504.0C725.6,504.7 726.8,512.5 727.9,512.9C729.1,513.3 730.3,507.6 731.4,506.3C732.6,504.9 733.8,504.5 734.9,504.8C736.1,505.1 737.3,507.0 738.4,508.3C739.6,509.6 740.8,511.6 741.9,512.5C743.1,513.4 744.3,513.9 745.4,513.6C746.6,513.4 747.8,512.7 748.9,511.0C750.1,509.3 751.3,504.9 752.4,503.5C753.6,502.1 754.7,503.1 755.9,502.8C757.1,502.6 758.2,500.7 759.4,502.1C760.6,503.5 761.7,509.7 762.9,511.3C764.1,512.9 765.2,511.7 766.4,511.8C767.6,512.0 768.7,513.1 769.9,512.2C771.1,511.4 772.2,507.7 773.4,506.8C774.6,506.0 775.7,508.1 776.9,506.9C778.1,505.6 779.2,498.6 780.4,499.6C781.6,500.5 782.7,511.6 783.9,512.8C785.0,514.0 786.2,505.8 787.4,506.8C788.5,507.7 789.7,518.0 790.9,518.6C792.0,519.2 793.2,511.7 794.4,510.5C795.5,509.2 796.7,510.8 797.9,511.2C799.0,511.6 800.2,513.9 801.4,513.0C802.5,512.0 803.7,504.7 804.9,505.7C806.0,506.6 807.2,517.2 808.4,518.9C809.5,520.5 810.7,516.4 811.9,515.7C813.0,515.0 814.2,514.8 815.3,514.7C816.5,514.5 817.7,514.1 818.8,514.8C820.0,515.5 821.2,518.7 822.3,518.7C823.5,518.7 824.7,515.1 825.8,514.8C827.0,514.6 828.2,518.2 829.3,517.4C830.5,516.7 831.7,510.7 832.8,510.4C834.0,510.1 835.2,515.1 836.3,515.6C837.5,516.2 838.7,513.5 839.8,513.6C841.0,513.6 842.2,515.2 843.3,516.0C844.5,516.8 845.7,516.8 846.8,518.5C848.0,520.2 849.1,526.5 850.3,526.4C851.5,526.3 852.6,519.2 853.8,518.1C855.0,517.0 856.1,519.2 857.3,519.6C858.5,520.1 859.6,520.7 860.8,520.6C862.0,520.4 863.1,517.1 864.3,518.8C865.5,520.5 866.6,530.3 867.8,530.7C869.0,531.2 870.1,522.7 871.3,521.6C872.5,520.5 873.6,523.0 874.8,524.1C876.0,525.2 877.1,529.0 878.3,528.5C879.4,528.0 880.6,521.4 881.8,521.2C882.9,521.0 884.1,527.4 885.3,527.1C886.4,526.8 887.6,520.0 888.8,519.5C889.9,519.0 891.1,523.1 892.3,524.0C893.4,524.9 894.6,525.1 895.8,524.9C896.9,524.6 898.1,520.9 899.3,522.4C900.4,523.8 901.6,533.9 902.8,533.7C903.9,533.5 905.1,522.4 906.3,521.2C907.4,519.9 908.6,525.6 909.7,526.3C910.9,527.0 912.1,525.3 913.2,525.4C914.4,525.5 915.6,526.8 916.7,526.9C917.9,527.0 919.1,525.9 920.2,526.0C921.4,526.1 922.6,527.7 923.7,527.6C924.9,527.4 926.1,526.3 927.2,525.3C928.4,524.2 929.6,520.3 930.7,521.1C931.9,521.9 933.1,529.7 934.2,529.9C935.4,530.1 936.6,523.2 937.7,522.2C938.9,521.3 940.1,524.0 941.2,524.1C942.4,524.2 943.5,522.6 944.7,522.8C945.9,523.0 947.0,524.6 948.2,525.1C949.4,525.6 950.5,525.3 951.7,525.9C952.9,526.4 954.0,529.2 955.2,528.6C956.4,528.0 957.5,523.2 958.7,522.3C959.9,521.5 961.0,522.5 962.2,523.5C963.4,524.5 964.5,526.6 965.7,528.1C966.9,529.6 968.0,531.6 969.2,532.6C970.4,533.5 971.5,533.2 972.7,533.6C973.8,534.0 975.0,536.5 976.2,535.1C977.3,533.7 978.5,528.2 979.7,525.3C980.8,522.5 982.0,517.6 983.2,518.1C984.3,518.5 985.5,526.4 986.7,527.8C987.8,529.3 989.0,525.6 990.2,526.7C991.3,527.8 992.5,533.5 993.7,534.5C994.8,535.5 996.0,532.3 997.2,532.7C998.3,533.1 999.5,537.2 1000.7,536.7C1001.8,536.1 1003.0,529.4 1004.2,529.3C1005.3,529.2 1006.5,535.8 1007.6,535.9C1008.8,536.1 1010.0,531.0 1011.1,530.1C1012.3,529.1 1013.5,528.4 1014.6,530.2C1015.8,532.1 1017.0,541.9 1018.1,541.3C1019.3,540.8 1020.5,528.1 1021.6,527.0C1022.8,525.9 1024.0,534.3 1025.1,534.7C1026.3,535.0 1027.5,528.8 1028.6,529.3C1029.8,529.7 1031.0,537.6 1032.1,537.3C1033.3,537.0 1034.5,527.2 1035.6,527.4C1036.8,527.5 1037.9,536.2 1039.1,538.2C1040.3,540.3 1041.4,539.7 1042.6,539.5C1043.8,539.3 1044.9,536.9 1046.1,537.0C1047.3,537.1 1048.4,542.3 1049.6,540.2C1050.8,538.1 1051.9,528.2 1053.1,524.3C1054.3,520.4 1055.4,515.0 1056.6,517.0C1057.8,518.9 1058.9,534.4 1060.1,535.9C1061.3,537.4 1062.4,527.2 1063.6,525.9C1064.8,524.7 1065.9,526.0 1067.1,528.4C1068.2,530.9 1069.4,540.3 1070.6,540.7C1071.7,541.0 1072.9,531.8 1074.1,530.5C1075.2,529.1 1076.4,531.4 1077.6,532.6C1078.7,533.8 1079.9,538.4 1081.1,537.6C1082.2,536.8 1083.4,527.3 1084.6,528.0C1085.7,528.7 1086.9,540.5 1088.1,542.0C1089.2,543.5 1090.4,538.6 1091.6,536.9C1092.7,535.2 1093.9,531.7 1095.1,532.0C1096.2,532.4 1097.4,537.9 1098.6,538.9C1099.7,539.9 1100.9,538.7 1102.0,537.9C1103.2,537.1 1104.4,533.8 1105.5,534.3C1106.7,534.8 1107.9,540.0 1109.0,540.8C1110.2,541.6 1111.4,539.2 1112.5,539.0C1113.7,538.8 1114.9,538.8 1116.0,539.7C1117.2,540.6 1118.4,545.9 1119.5,544.7C1120.7,543.4 1121.9,535.2 1123.0,532.2C1124.2,529.2 1125.4,526.6 1126.5,526.8C1127.7,526.9 1128.9,531.6 1130.0,532.9C1131.2,534.1 1132.3,532.7 1133.5,534.4C1134.7,536.2 1135.8,543.1 1137.0,543.6C1138.2,544.1 1139.3,537.5 1140.5,537.5C1141.7,537.4 1142.8,542.6 1144.0,543.3C1145.2,543.9 1146.3,544.7 1147.5,541.3C1148.7,537.9 1149.8,521.7 1151.0,522.9C1152.2,524.0 1153.3,545.7 1154.5,548.3C1155.7,550.8 1156.8,538.9 1158.0,538.2C1159.2,537.4 1160.3,543.6 1161.5,543.8C1162.7,543.9 1163.8,540.5 1165.0,539.0C1166.1,537.5 1167.3,535.1 1168.5,535.0C1169.6,534.9 1170.8,537.5 1172.0,538.4C1173.1,539.3 1174.3,541.0 1175.5,540.2C1176.6,539.5 1177.8,533.2 1179.0,533.8C1180.1,534.4 1181.3,542.6 1182.5,543.6C1183.6,544.7 1184.8,540.6 1186.0,539.9C1187.1,539.2 1188.3,540.1 1189.5,539.4C1190.6,538.8 1191.8,537.0 1193.0,536.1C1194.1,535.2 1195.3,533.5 1196.4,534.0C1197.6,534.6 1198.8,537.7 1199.9,539.2C1201.1,540.7 1202.3,542.5 1203.4,543.0C1204.6,543.6 1206.4,542.4 1206.9,542.3"/>
<path d="M102.1,599.0C102.7,601.1 104.4,611.5 105.6,611.5C106.8,611.4 107.9,598.4 109.1,598.8C110.3,599.2 111.4,612.4 112.6,613.7C113.8,614.9 114.9,608.0 116.1,606.3C117.3,604.6 118.4,603.3 119.6,603.4C120.7,603.5 121.9,609.6 123.1,607.0C124.2,604.4 125.4,589.3 126.6,587.8C127.7,586.3 128.9,592.1 130.1,598.0C131.2,603.9 132.4,622.2 133.6,623.1C134.7,623.9 135.9,605.5 137.1,603.3C138.2,601.2 139.4,609.6 140.6,610.0C141.7,610.3 142.9,604.8 144.1,605.5C145.2,606.3 146.4,615.5 147.6,614.5C148.7,613.5 149.9,602.9 151.0,599.5C152.2,596.1 153.4,594.1 154.5,594.1C155.7,594.1 156.9,599.5 158.0,599.5C159.2,599.5 160.4,595.4 161.5,594.2C162.7,592.9 163.9,592.3 165.0,591.8C166.2,591.4 167.4,591.9 168.5,591.6C169.7,591.3 170.9,590.5 172.0,590.0C173.2,589.6 174.4,589.2 175.5,588.9C176.7,588.6 177.9,589.9 179.0,588.1C180.2,586.3 181.3,579.3 182.5,578.1C183.7,576.8 184.8,579.7 186.0,580.7C187.2,581.8 188.3,584.0 189.5,584.2C190.7,584.4 191.8,582.5 193.0,582.0C194.2,581.5 195.3,581.1 196.5,581.3C197.7,581.5 198.8,584.0 200.0,583.1C201.2,582.2 202.3,576.3 203.5,575.8C204.7,575.4 205.8,579.8 207.0,580.1C208.2,580.4 209.3,578.1 210.5,577.7C211.7,577.3 212.8,578.9 214.0,577.5C215.1,576.0 216.3,569.6 217.5,569.2C218.6,568.7 219.8,574.5 221.0,574.9C222.1,575.2 223.3,572.6 224.5,571.4C225.6,570.2 226.8,570.2 228.0,567.6C229.1,565.0 230.3,555.3 231.5,556.0C232.6,556.6 233.8,570.0 235.0,571.5C236.1,573.0 237.3,566.5 238.5,565.0C239.6,563.5 240.8,563.9 242.0,562.7C243.1,561.4 244.3,557.2 245.4,557.5C246.6,557.9 247.8,564.0 248.9,564.5C250.1,565.1 251.3,561.8 252.4,560.8C253.6,559.7 254.8,559.3 255.9,558.2C257.1,557.2 258.3,555.3 259.4,554.5C260.6,553.6 261.8,552.4 262.9,553.0C264.1,553.7 265.3,558.4 266.4,558.4C267.6,558.5 268.8,555.1 269.9,553.3C271.1,551.5 272.3,548.7 273.4,547.6C274.6,546.5 275.8,543.7 276.9,546.9C278.1,550.1 279.2,566.7 280.4,566.8C281.6,566.9 282.7,550.7 283.9,547.4C285.1,544.1 286.2,545.8 287.4,546.8C288.6,547.9 289.7,554.0 290.9,553.6C292.1,553.2 293.2,545.9 294.4,544.5C295.6,543.2 296.7,545.6 297.9,545.7C299.1,545.8 300.2,546.5 301.4,545.3C302.6,544.1 303.7,538.0 304.9,538.3C306.1,538.7 307.2,546.7 308.4,547.3C309.5,547.9 310.7,542.5 311.9,541.9C313.0,541.2 314.2,543.5 315.4,543.2C316.5,542.9 317.7,540.5 318.9,540.0C320.0,539.5 321.2,537.6 322.4,540.4C323.5,543.1 324.7,555.1 325.9,556.3C327.0,557.4 328.2,549.7 329.4,547.3C330.5,544.8 331.7,543.7 332.9,541.8C334.0,539.8 335.2,536.9 336.4,535.7C337.5,534.5 338.7,534.4 339.8,534.6C341.0,534.9 342.2,536.3 343.3,537.3C344.5,538.3 345.7,540.4 346.8,540.5C348.0,540.5 349.2,539.7 350.3,537.7C351.5,535.7 352.7,527.9 353.8,528.4C355.0,529.0 356.2,541.6 357.3,541.3C358.5,540.9 359.7,527.2 360.8,526.2C362.0,525.3 363.2,533.5 364.3,535.5C365.5,537.5 366.7,538.3 367.8,538.1C369.0,538.0 370.2,536.2 371.3,534.6C372.5,533.0 373.6,529.5 374.8,528.5C376.0,527.5 377.1,529.2 378.3,528.6C379.5,528.0 380.6,524.0 381.8,525.0C383.0,526.0 384.1,533.0 385.3,534.5C386.5,536.1 387.6,535.8 388.8,534.2C390.0,532.5 391.1,526.3 392.3,524.6C393.5,523.0 394.6,523.5 395.8,524.1C397.0,524.7 398.1,528.4 399.3,528.4C400.5,528.4 401.6,524.4 402.8,524.2C403.9,524.1 405.1,527.0 406.3,527.5C407.4,528.0 408.6,528.3 409.8,527.2C410.9,526.1 412.1,521.7 413.3,520.9C414.4,520.1 415.6,522.5 416.8,522.4C417.9,522.4 419.1,519.7 420.3,520.6C421.4,521.4 422.6,527.6 423.8,527.7C424.9,527.7 426.1,522.0 427.3,521.0C428.4,519.9 429.6,521.9 430.8,521.3C431.9,520.8 433.1,516.0 434.3,517.6C435.4,519.3 436.6,530.7 437.7,531.4C438.9,532.1 440.1,523.4 441.2,521.8C442.4,520.3 443.6,520.6 444.7,522.0C445.9,523.3 447.1,529.0 448.2,530.0C449.4,531.0 450.6,530.6 451.7,527.9C452.9,525.2 454.1,515.2 455.2,514.0C456.4,512.8 457.6,520.4 458.7,520.8C459.9,521.1 461.1,514.1 462.2,515.9C463.4,517.7 464.6,530.4 465.7,531.4C466.9,532.3 468.0,523.4 469.2,521.8C470.4,520.3 471.5,521.8 472.7,522.1C473.9,522.5 475.0,524.8 476.2,524.0C477.4,523.3 478.5,518.4 479.7,517.8C480.9,517.1 482.0,520.4 483.2,520.2C484.4,519.9 485.5,518.3 486.7,516.2C487.9,514.2 489.0,507.6 490.2,507.9C491.4,508.3 492.5,518.1 493.7,518.4C494.9,518.6 496.0,508.5 497.2,509.2C498.3,509.9 499.5,520.1 500.7,522.8C501.8,525.4 503.0,525.4 504.2,525.0C505.3,524.6 506.5,520.6 507.7,520.4C508.8,520.2 510.0,522.9 511.2,523.7C512.3,524.4 513.5,522.9 514.7,524.9C515.8,526.8 517.0,536.4 518.2,535.5C519.3,534.6 520.5,521.0 521.7,519.3C522.8,517.6 524.0,524.0 525.2,525.2C526.3,526.5 527.5,526.1 528.7,526.9C529.8,527.7 531.0,530.4 532.1,530.0C533.3,529.5 534.5,525.5 535.6,524.2C536.8,522.9 538.0,522.0 539.1,522.2C540.3,522.4 541.5,526.3 542.6,525.5C543.8,524.6 545.0,516.5 546.1,516.8C547.3,517.2 548.5,527.6 549.6,527.8C550.8,528.0 552.0,515.5 553.1,518.1C554.3,520.7 555.5,544.2 556.6,543.5C557.8,542.9 559.0,518.2 560.1,514.1C561.3,510.0 562.4,516.7 563.6,518.9C564.8,521.1 565.9,526.0 567.1,527.3C568.3,528.5 569.4,527.2 570.6,526.6C571.8,526.0 572.9,522.3 574.1,523.7C575.3,525.1 576.4,533.3 577.6,534.9C578.8,536.5 579.9,534.6 581.1,533.4C582.3,532.2 583.4,528.3 584.6,527.8C585.8,527.3 586.9,530.1 588.1,530.5C589.3,530.9 590.4,530.4 591.6,530.2C592.8,530.0 593.9,528.4 595.1,529.2C596.2,530.0 597.4,534.3 598.6,535.2C599.7,536.0 600.9,534.2 602.1,534.3C603.2,534.5 604.4,535.7 605.6,536.3C606.7,536.9 607.9,539.2 609.1,537.8C610.2,536.4 611.4,528.4 612.6,527.8C613.7,527.3 614.9,535.2 616.1,534.6C617.2,534.0 618.4,524.3 619.6,524.3C620.7,524.2 621.9,533.1 623.1,534.1C624.2,535.0 625.4,528.8 626.5,529.8C627.7,530.9 628.9,539.7 630.0,540.5C631.2,541.2 632.4,534.4 633.5,534.2C634.7,534.1 635.9,538.2 637.0,539.3C638.2,540.5 639.4,542.1 640.5,541.2C641.7,540.3 642.9,534.8 644.0,534.0C645.2,533.3 646.4,535.4 647.5,536.6C648.7,537.8 649.9,542.4 651.0,541.3C652.2,540.2 653.4,529.7 654.5,530.1C655.7,530.5 656.8,541.6 658.0,543.7C659.2,545.8 660.3,544.2 661.5,542.8C662.7,541.4 663.8,536.7 665.0,535.2C666.2,533.8 667.3,532.4 668.5,534.1C669.7,535.9 670.8,545.9 672.0,545.5C673.2,545.2 674.3,533.1 675.5,531.9C676.7,530.7 677.8,536.5 679.0,538.3C680.2,540.0 681.3,542.4 682.5,542.4C683.7,542.4 684.8,537.8 686.0,538.1C687.2,538.3 688.3,542.6 689.5,543.7C690.6,544.8 691.8,545.2 693.0,544.7C694.1,544.2 695.3,540.9 696.5,540.4C697.6,539.9 698.8,540.9 700.0,541.8C701.1,542.6 702.3,545.6 703.5,545.5C704.6,545.4 705.8,542.9 707.0,541.2C708.1,539.5 709.3,534.2 710.5,535.1C711.6,536.1 712.8,543.9 714.0,547.0C715.1,550.1 716.3,555.7 717.5,553.8C718.6,552.0 719.8,537.9 720.9,536.1C722.1,534.2 723.3,541.4 724.4,542.9C725.6,544.3 726.8,544.2 727.9,544.6C729.1,545.0 730.3,544.8 731.4,545.2C732.6,545.7 733.8,547.8 734.9,547.4C736.1,547.0 737.3,543.5 738.4,542.7C739.6,541.9 740.8,542.4 741.9,542.5C743.1,542.7 744.3,543.8 745.4,543.7C746.6,543.6 747.8,543.1 748.9,541.8C750.1,540.4 751.3,536.7 752.4,535.7C753.6,534.8 754.7,535.8 755.9,536.3C757.1,536.7 758.2,536.7 759.4,538.4C760.6,540.2 761.7,543.9 762.9,546.6C764.1,549.4 765.2,555.6 766.4,554.9C767.6,554.3 768.7,543.9 769.9,542.7C771.1,541.5 772.2,546.9 773.4,547.5C774.6,548.2 775.7,548.6 776.9,546.6C778.1,544.6 779.2,533.9 780.4,535.5C781.6,537.1 782.7,554.0 783.9,556.2C785.0,558.4 786.2,550.3 787.4,548.4C788.5,546.5 789.7,545.2 790.9,544.9C792.0,544.5 793.2,546.6 794.4,546.3C795.5,545.9 796.7,543.0 797.9,542.8C799.0,542.7 800.2,545.2 801.4,545.4C802.5,545.5 803.7,543.3 804.9,543.7C806.0,544.1 807.2,548.1 808.4,547.8C809.5,547.5 810.7,543.9 811.9,541.9C813.0,539.8 814.2,535.4 815.3,535.3C816.5,535.2 817.7,540.0 818.8,541.1C820.0,542.2 821.2,541.8 822.3,542.0C823.5,542.1 824.7,542.6 825.8,542.0C827.0,541.4 828.2,536.3 829.3,538.4C830.5,540.4 831.7,553.5 832.8,554.2C834.0,554.9 835.2,543.6 836.3,542.5C837.5,541.4 838.7,545.9 839.8,547.5C841.0,549.2 842.2,551.1 843.3,552.4C844.5,553.7 845.7,555.4 846.8,555.4C848.0,555.3 849.1,553.3 850.3,552.1C851.5,550.8 852.6,548.4 853.8,547.8C855.0,547.3 856.1,548.5 857.3,548.6C858.5,548.7 859.6,547.4 860.8,548.6C862.0,549.8 863.1,554.0 864.3,555.9C865.5,557.8 866.6,561.0 867.8,559.9C869.0,558.9 870.1,551.0 871.3,549.6C872.5,548.1 873.6,550.3 874.8,551.1C876.0,552.0 877.1,554.3 878.3,554.9C879.4,555.5 880.6,554.5 881.8,554.7C882.9,554.9 884.1,557.5 885.3,556.3C886.4,555.1 887.6,549.3 888.8,547.5C889.9,545.7 891.1,544.5 892.3,545.7C893.4,546.9 894.6,553.6 895.8,554.8C896.9,555.9 898.1,552.2 899.3,552.4C900.4,552.6 901.6,554.7 902.8,556.0C903.9,557.3 905.1,560.1 906.3,560.2C907.4,560.3 908.6,558.4 909.7,556.4C910.9,554.4 912.1,548.9 913.2,548.3C914.4,547.8 915.6,552.7 916.7,553.1C917.9,553.5 919.1,550.9 920.2,550.8C921.4,550.8 922.6,553.3 923.7,552.9C924.9,552.4 926.1,548.7 927.2,548.2C928.4,547.7 929.6,548.1 930.7,549.9C931.9,551.7 933.1,558.1 934.2,558.9C935.4,559.8 936.6,556.8 937.7,555.2C938.9,553.6 940.1,549.6 941.2,549.3C942.4,549.0 943.5,552.2 944.7,553.5C945.9,554.9 947.0,557.3 948.2,557.2C949.4,557.2 950.5,554.4 951.7,553.3C952.9,552.2 954.0,550.2 955.2,550.4C956.4,550.6 957.5,552.6 958.7,554.6C959.9,556.6 961.0,560.9 962.2,562.3C963.4,563.8 964.5,563.4 965.7,563.3C966.9,563.1 968.0,561.8 969.2,561.4C970.4,561.1 971.5,562.0 972.7,561.4C973.8,560.8 975.0,559.3 976.2,558.0C977.3,556.8 978.5,555.3 979.7,554.0C980.8,552.6 982.0,549.6 983.2,549.7C984.3,549.7 985.5,553.7 986.7,554.4C987.8,555.0 989.0,553.3 990.2,553.6C991.3,553.9 992.5,555.4 993.7,556.1C994.8,556.9 996.0,559.2 997.2,558.1C998.3,556.9 999.5,549.3 1000.7,549.3C1001.8,549.4 1003.0,555.8 1004.2,558.3C1005.3,560.8 1006.5,563.3 1007.6,564.1C1008.8,565.0 1010.0,564.5 1011.1,563.3C1012.3,562.2 1013.5,556.0 1014.6,557.2C1015.8,558.4 1017.0,570.4 1018.1,570.4C1019.3,570.4 1020.5,559.3 1021.6,557.3C1022.8,555.2 1024.0,559.5 1025.1,558.1C1026.3,556.7 1027.5,548.8 1028.6,548.8C1029.8,548.8 1031.0,556.9 1032.1,558.1C1033.3,559.4 1034.5,555.2 1035.6,556.3C1036.8,557.3 1037.9,563.4 1039.1,564.4C1040.3,565.5 1041.4,563.8 1042.6,562.6C1043.8,561.4 1044.9,557.6 1046.1,557.4C1047.3,557.1 1048.4,561.9 1049.6,561.1C1050.8,560.2 1051.9,552.5 1053.1,552.1C1054.3,551.7 1055.4,557.7 1056.6,558.6C1057.8,559.4 1058.9,557.3 1060.1,557.0C1061.3,556.6 1062.4,556.8 1063.6,556.5C1064.8,556.3 1065.9,553.4 1067.1,555.4C1068.2,557.5 1069.4,568.3 1070.6,568.9C1071.7,569.6 1072.9,561.8 1074.1,559.1C1075.2,556.3 1076.4,553.7 1077.6,552.3C1078.7,550.9 1079.9,549.6 1081.1,550.7C1082.2,551.8 1083.4,557.8 1084.6,559.0C1085.7,560.2 1086.9,557.1 1088.1,557.9C1089.2,558.7 1090.4,563.3 1091.6,563.8C1092.7,564.2 1093.9,560.8 1095.1,560.6C1096.2,560.4 1097.4,563.3 1098.6,562.5C1099.7,561.7 1100.9,556.6 1102.0,555.9C1103.2,555.2 1104.4,557.2 1105.5,558.2C1106.7,559.2 1107.9,561.1 1109.0,561.9C1110.2,562.8 1111.4,562.9 1112.5,563.3C1113.7,563.8 1114.9,565.0 1116.0,564.6C1117.2,564.2 1118.4,560.7 1119.5,560.9C1120.7,561.1 1121.9,567.1 1123.0,566.0C1124.2,564.9 1125.4,555.6 1126.5,554.5C1127.7,553.4 1128.9,558.4 1130.0,559.4C1131.2,560.3 1132.3,561.0 1133.5,560.2C1134.7,559.5 1135.8,555.4 1137.0,554.8C1138.2,554.1 1139.3,554.6 1140.5,556.3C1141.7,558.0 1142.8,563.7 1144.0,564.9C1145.2,566.1 1146.3,565.4 1147.5,563.5C1148.7,561.6 1149.8,552.1 1151.0,553.7C1152.2,555.3 1153.3,570.5 1154.5,573.0C1155.7,575.4 1156.8,570.8 1158.0,568.2C1159.2,565.5 1160.3,557.4 1161.5,557.2C1162.7,556.9 1163.8,567.3 1165.0,566.7C1166.1,566.1 1167.3,554.5 1168.5,553.5C1169.6,552.4 1170.8,558.7 1172.0,560.4C1173.1,562.2 1174.3,563.6 1175.5,564.0C1176.6,564.5 1177.8,563.4 1179.0,563.0C1180.1,562.7 1181.3,563.0 1182.5,561.9C1183.6,560.7 1184.8,557.5 1186.0,556.1C1187.1,554.7 1188.3,552.6 1189.5,553.5C1190.6,554.4 1191.8,561.0 1193.0,561.6C1194.1,562.1 1195.3,556.7 1196.4,556.8C1197.6,556.8 1198.8,561.6 1199.9,561.9C1201.1,562.3 1202.3,558.6 1203.4,559.0C1204.6,559.5 1206.4,563.8 1206.9,564.7"/>
<path d="M102.1,618.1C102.7,615.1 104.4,601.2 105.6,600.0C106.8,598.8 107.9,608.5 109.1,610.9C110.3,613.2 111.4,616.8 112.6,614.1C113.8,611.5 114.9,599.0 116.1,595.0C117.3,591.0 118.4,587.7 119.6,590.2C120.7,592.6 121.9,609.0 123.1,609.8C124.2,610.7 125.4,598.1 126.6,595.4C127.7,592.6 128.9,591.0 130.1,593.4C131.2,595.8 132.4,607.6 133.6,609.8C134.7,612.0 135.9,607.1 137.1,606.7C138.2,606.2 139.4,608.8 140.6,607.2C141.7,605.6 142.9,598.3 144.1,597.2C145.2,596.1 146.4,600.6 147.6,600.7C148.7,600.8 149.9,598.7 151.0,597.9C152.2,597.1 153.4,595.5 154.5,595.9C155.7,596.3 156.9,599.3 158.0,600.3C159.2,601.2 160.4,601.2 161.5,601.5C162.7,601.8 163.9,603.8 165.0,602.0C166.2,600.3 167.4,592.0 168.5,590.9C169.7,589.7 170.9,595.1 172.0,595.3C173.2,595.6 174.4,592.2 175.5,592.3C176.7,592.3 177.9,596.0 179.0,595.5C180.2,595.0 181.3,590.1 182.5,589.3C183.7,588.4 184.8,591.0 186.0,590.2C187.2,589.5 188.3,585.1 189.5,584.9C190.7,584.8 191.8,588.1 193.0,589.3C194.2,590.5 195.3,593.0 196.5,592.2C197.7,591.5 198.8,586.4 200.0,584.7C201.2,583.0 202.3,581.7 203.5,581.9C204.7,582.2 205.8,585.6 207.0,586.2C208.2,586.8 209.3,586.6 210.5,585.4C211.7,584.2 212.8,578.9 214.0,578.9C215.1,578.9 216.3,584.6 217.5,585.2C218.6,585.8 219.8,582.5 221.0,582.4C222.1,582.3 223.3,585.4 224.5,584.5C225.6,583.6 226.8,580.5 228.0,576.9C229.1,573.3 230.3,563.9 231.5,562.9C232.6,562.0 233.8,569.2 235.0,571.1C236.1,573.0 237.3,573.1 238.5,574.3C239.6,575.5 240.8,578.1 242.0,578.2C243.1,578.2 244.3,574.5 245.4,574.6C246.6,574.7 247.8,578.8 248.9,578.6C250.1,578.3 251.3,572.4 252.4,573.0C253.6,573.6 254.8,582.6 255.9,582.0C257.1,581.4 258.3,572.8 259.4,569.5C260.6,566.3 261.8,562.9 262.9,562.5C264.1,562.1 265.3,566.5 266.4,567.0C267.6,567.5 268.8,565.6 269.9,565.7C271.1,565.7 272.3,566.0 273.4,567.3C274.6,568.7 275.8,571.1 276.9,573.8C278.1,576.4 279.2,585.8 280.4,583.4C281.6,581.0 282.7,563.4 283.9,559.1C285.1,554.9 286.2,556.8 287.4,557.9C288.6,558.9 289.7,565.7 290.9,565.4C292.1,565.2 293.2,556.8 294.4,556.4C295.6,556.1 296.7,563.8 297.9,563.3C299.1,562.9 300.2,555.8 301.4,554.0C302.6,552.1 303.7,551.4 304.9,552.3C306.1,553.2 307.2,559.1 308.4,559.5C309.5,559.8 310.7,553.9 311.9,554.4C313.0,554.8 314.2,560.9 315.4,561.9C316.5,562.9 317.7,559.8 318.9,560.5C320.0,561.1 321.2,564.5 322.4,565.7C323.5,567.0 324.7,568.9 325.9,567.9C327.0,566.9 328.2,561.4 329.4,559.5C330.5,557.5 331.7,556.5 332.9,556.1C334.0,555.6 335.2,557.1 336.4,556.7C337.5,556.2 338.7,553.9 339.8,553.4C341.0,552.9 342.2,553.7 343.3,553.7C344.5,553.7 345.7,553.7 346.8,553.6C348.0,553.6 349.2,556.0 350.3,553.4C351.5,550.8 352.7,538.3 353.8,537.9C355.0,537.5 356.2,547.8 357.3,550.8C358.5,553.7 359.7,555.0 360.8,555.4C362.0,555.8 363.2,553.7 364.3,553.2C365.5,552.6 366.7,552.2 367.8,552.1C369.0,552.0 370.2,554.0 371.3,552.4C372.5,550.7 373.6,543.0 374.8,542.4C376.0,541.9 377.1,548.3 378.3,548.8C379.5,549.4 380.6,545.1 381.8,545.9C383.0,546.7 384.1,553.6 385.3,553.4C386.5,553.3 387.6,545.8 388.8,545.1C390.0,544.4 391.1,549.4 392.3,549.2C393.5,549.0 394.6,543.3 395.8,543.7C397.0,544.2 398.1,550.4 399.3,551.9C400.5,553.3 401.6,552.6 402.8,552.5C403.9,552.4 405.1,552.0 406.3,551.3C407.4,550.6 408.6,548.1 409.8,548.2C410.9,548.2 412.1,552.0 413.3,551.4C414.4,550.9 415.6,546.5 416.8,545.0C417.9,543.4 419.1,541.2 420.3,542.1C421.4,543.1 422.6,549.5 423.8,550.5C424.9,551.6 426.1,548.8 427.3,548.4C428.4,548.0 429.6,548.4 430.8,548.0C431.9,547.6 433.1,546.9 434.3,546.1C435.4,545.3 436.6,543.4 437.7,543.2C438.9,543.0 440.1,543.9 441.2,545.1C442.4,546.3 443.6,549.3 444.7,550.2C445.9,551.1 447.1,550.2 448.2,550.3C449.4,550.4 450.6,552.9 451.7,551.1C452.9,549.2 454.1,539.5 455.2,539.2C456.4,538.8 457.6,548.8 458.7,549.0C459.9,549.2 461.1,540.4 462.2,540.4C463.4,540.5 464.6,547.8 465.7,549.3C466.9,550.7 468.0,550.0 469.2,549.2C470.4,548.3 471.5,546.1 472.7,544.2C473.9,542.3 475.0,537.3 476.2,537.6C477.4,537.9 478.5,545.3 479.7,546.1C480.9,546.9 482.0,543.7 483.2,542.5C484.4,541.2 485.5,539.1 486.7,538.7C487.9,538.2 489.0,538.8 490.2,539.8C491.4,540.8 492.5,545.6 493.7,544.7C494.9,543.7 496.0,535.6 497.2,533.9C498.3,532.2 499.5,531.8 500.7,534.4C501.8,537.1 503.0,548.6 504.2,549.6C505.3,550.7 506.5,541.8 507.7,540.7C508.8,539.7 510.0,542.9 511.2,543.1C512.3,543.3 513.5,540.3 514.7,542.2C515.8,544.0 517.0,554.2 518.2,554.0C519.3,553.7 520.5,543.1 521.7,540.6C522.8,538.1 524.0,538.5 525.2,538.9C526.3,539.4 527.5,542.1 528.7,543.3C529.8,544.4 531.0,545.5 532.1,545.8C533.3,546.1 534.5,546.5 535.6,545.2C536.8,544.0 538.0,538.6 539.1,538.4C540.3,538.2 541.5,545.3 542.6,544.1C543.8,542.9 545.0,531.4 546.1,531.0C547.3,530.7 548.5,541.0 549.6,541.7C550.8,542.4 552.0,532.6 553.1,535.2C554.3,537.9 555.5,556.4 556.6,557.8C557.8,559.2 559.0,545.8 560.1,543.4C561.3,541.0 562.4,542.7 563.6,543.4C564.8,544.2 565.9,548.9 567.1,547.8C568.3,546.8 569.4,538.2 570.6,537.2C571.8,536.2 572.9,540.2 574.1,542.0C575.3,543.7 576.4,548.0 577.6,548.0C578.8,548.1 579.9,543.8 581.1,542.3C582.3,540.7 583.4,537.7 584.6,538.7C585.8,539.7 586.9,548.8 588.1,548.1C589.3,547.4 590.4,535.8 591.6,534.8C592.8,533.7 593.9,540.0 595.1,541.6C596.2,543.3 597.4,545.3 598.6,544.6C599.7,544.0 600.9,538.0 602.1,537.7C603.2,537.4 604.4,540.6 605.6,542.6C606.7,544.6 607.9,551.3 609.1,549.6C610.2,547.9 611.4,533.5 612.6,532.3C613.7,531.1 614.9,540.9 616.1,542.5C617.2,544.0 618.4,542.1 619.6,541.6C620.7,541.1 621.9,538.1 623.1,539.2C624.2,540.4 625.4,547.7 626.5,548.3C627.7,549.0 628.9,544.3 630.0,543.2C631.2,542.1 632.4,542.8 633.5,541.7C634.7,540.6 635.9,535.6 637.0,536.6C638.2,537.6 639.4,547.0 640.5,547.9C641.7,548.8 642.9,543.4 644.0,542.1C645.2,540.9 646.4,541.0 647.5,540.5C648.7,540.0 649.9,539.1 651.0,539.0C652.2,538.9 653.4,539.4 654.5,539.8C655.7,540.3 656.8,540.7 658.0,541.9C659.2,543.0 660.3,547.0 661.5,546.5C662.7,546.1 663.8,541.0 665.0,539.3C666.2,537.6 667.3,535.8 668.5,536.3C669.7,536.9 670.8,541.1 672.0,542.5C673.2,544.0 674.3,544.6 675.5,545.0C676.7,545.4 677.8,543.6 679.0,544.7C680.2,545.7 681.3,552.6 682.5,551.2C683.7,549.8 684.8,538.5 686.0,536.4C687.2,534.4 688.3,537.6 689.5,538.8C690.6,540.1 691.8,543.2 693.0,544.2C694.1,545.1 695.3,543.8 696.5,544.4C697.6,545.0 698.8,548.4 700.0,547.7C701.1,547.0 702.3,541.8 703.5,540.2C704.6,538.5 705.8,536.7 707.0,537.9C708.1,539.0 709.3,546.0 710.5,547.2C711.6,548.5 712.8,544.0 714.0,545.3C715.1,546.6 716.3,556.2 717.5,555.2C718.6,554.2 719.8,541.3 720.9,539.2C722.1,537.2 723.3,542.2 724.4,542.8C725.6,543.3 726.8,541.9 727.9,542.3C729.1,542.6 730.3,544.7 731.4,544.9C732.6,545.0 733.8,542.8 734.9,543.1C736.1,543.4 737.3,546.8 738.4,546.7C739.6,546.6 740.8,542.3 741.9,542.4C743.1,542.4 744.3,546.7 745.4,546.9C746.6,547.1 747.8,544.7 748.9,543.8C750.1,542.8 751.3,542.4 752.4,541.1C753.6,539.8 754.7,535.6 755.9,535.9C757.1,536.1 758.2,541.7 759.4,542.5C760.6,543.2 761.7,539.1 762.9,540.4C764.1,541.8 765.2,551.0 766.4,550.7C767.6,550.5 768.7,540.2 769.9,538.9C771.1,537.7 772.2,543.3 773.4,543.4C774.6,543.5 775.7,542.1 776.9,539.7C778.1,537.4 779.2,528.0 780.4,529.1C781.6,530.1 782.7,542.7 783.9,546.0C785.0,549.3 786.2,549.9 787.4,548.8C788.5,547.7 789.7,540.1 790.9,539.4C792.0,538.7 793.2,546.6 794.4,544.8C795.5,543.0 796.7,528.5 797.9,528.5C799.0,528.5 800.2,542.8 801.4,544.7C802.5,546.6 803.7,540.0 804.9,539.8C806.0,539.7 807.2,545.2 808.4,544.0C809.5,542.7 810.7,532.7 811.9,532.3C813.0,532.0 814.2,540.9 815.3,541.8C816.5,542.8 817.7,537.1 818.8,538.2C820.0,539.4 821.2,546.6 822.3,548.8C823.5,551.1 824.7,552.5 825.8,551.5C827.0,550.5 828.2,544.4 829.3,542.9C830.5,541.3 831.7,541.7 832.8,542.1C834.0,542.4 835.2,545.6 836.3,545.0C837.5,544.4 838.7,537.5 839.8,538.3C841.0,539.2 842.2,548.6 843.3,550.3C844.5,551.9 845.7,547.6 846.8,548.2C848.0,548.7 849.1,554.2 850.3,553.5C851.5,552.8 852.6,546.6 853.8,543.8C855.0,541.0 856.1,536.8 857.3,536.8C858.5,536.9 859.6,542.7 860.8,544.1C862.0,545.6 863.1,544.2 864.3,545.4C865.5,546.6 866.6,550.3 867.8,551.3C869.0,552.3 870.1,552.7 871.3,551.4C872.5,550.1 873.6,543.1 874.8,543.6C876.0,544.1 877.1,553.7 878.3,554.6C879.4,555.5 880.6,548.9 881.8,548.9C882.9,548.8 884.1,554.8 885.3,554.3C886.4,553.7 887.6,547.8 888.8,545.6C889.9,543.5 891.1,540.0 892.3,541.5C893.4,543.1 894.6,553.9 895.8,554.9C896.9,555.9 898.1,549.7 899.3,547.5C900.4,545.4 901.6,542.0 902.8,542.2C903.9,542.3 905.1,547.8 906.3,548.7C907.4,549.5 908.6,548.4 909.7,547.2C910.9,545.9 912.1,542.5 913.2,541.1C914.4,539.7 915.6,538.2 916.7,538.9C917.9,539.6 919.1,542.9 920.2,545.2C921.4,547.6 922.6,554.0 923.7,553.1C924.9,552.3 926.1,542.6 927.2,540.2C928.4,537.7 929.6,537.6 930.7,538.4C931.9,539.2 933.1,542.5 934.2,545.1C935.4,547.7 936.6,554.8 937.7,554.0C938.9,553.2 940.1,541.6 941.2,540.3C942.4,539.0 943.5,545.9 944.7,546.1C945.9,546.3 947.0,541.4 948.2,541.5C949.4,541.6 950.5,545.6 951.7,546.6C952.9,547.6 954.0,548.1 955.2,547.4C956.4,546.8 957.5,544.0 958.7,542.7C959.9,541.5 961.0,540.0 962.2,539.8C963.4,539.7 964.5,539.8 965.7,541.8C966.9,543.8 968.0,550.6 969.2,551.8C970.4,552.9 971.5,550.1 972.7,548.6C973.8,547.1 975.0,543.5 976.2,542.7C977.3,542.0 978.5,543.8 979.7,544.1C980.8,544.4 982.0,544.4 983.2,544.7C984.3,544.9 985.5,546.1 986.7,545.6C987.8,545.1 989.0,541.5 990.2,541.7C991.3,541.9 992.5,546.0 993.7,546.7C994.8,547.5 996.0,546.6 997.2,546.4C998.3,546.2 999.5,545.2 1000.7,545.5C1001.8,545.9 1003.0,548.5 1004.2,548.3C1005.3,548.2 1006.5,544.7 1007.6,544.7C1008.8,544.6 1010.0,547.8 1011.1,548.0C1012.3,548.2 1013.5,544.5 1014.6,545.7C1015.8,547.0 1017.0,556.5 1018.1,555.6C1019.3,554.8 1020.5,543.0 1021.6,540.8C1022.8,538.6 1024.0,542.7 1025.1,542.7C1026.3,542.6 1027.5,540.3 1028.6,540.2C1029.8,540.2 1031.0,542.2 1032.1,542.3C1033.3,542.3 1034.5,540.4 1035.6,540.7C1036.8,541.0 1037.9,543.5 1039.1,544.1C1040.3,544.8 1041.4,545.5 1042.6,544.7C1043.8,544.0 1044.9,539.7 1046.1,539.5C1047.3,539.4 1048.4,543.6 1049.6,543.8C1050.8,544.0 1051.9,541.1 1053.1,540.8C1054.3,540.5 1055.4,541.3 1056.6,542.0C1057.8,542.8 1058.9,545.1 1060.1,545.1C1061.3,545.2 1062.4,542.2 1063.6,542.2C1064.8,542.1 1065.9,542.6 1067.1,544.6C1068.2,546.7 1069.4,553.8 1070.6,554.4C1071.7,554.9 1072.9,550.3 1074.1,547.9C1075.2,545.5 1076.4,541.6 1077.6,540.0C1078.7,538.4 1079.9,538.1 1081.1,538.5C1082.2,538.9 1083.4,540.3 1084.6,542.2C1085.7,544.0 1086.9,549.2 1088.1,549.7C1089.2,550.2 1090.4,546.3 1091.6,545.2C1092.7,544.1 1093.9,544.0 1095.1,543.4C1096.2,542.8 1097.4,542.1 1098.6,541.6C1099.7,541.1 1100.9,539.8 1102.0,540.3C1103.2,540.8 1104.4,542.9 1105.5,544.7C1106.7,546.5 1107.9,549.6 1109.0,551.1C1110.2,552.6 1111.4,553.2 1112.5,553.5C1113.7,553.8 1114.9,553.6 1116.0,553.1C1117.2,552.7 1118.4,552.6 1119.5,551.0C1120.7,549.5 1121.9,545.1 1123.0,543.6C1124.2,542.1 1125.4,542.9 1126.5,542.0C1127.7,541.2 1128.9,538.1 1130.0,538.7C1131.2,539.2 1132.3,543.8 1133.5,545.1C1134.7,546.4 1135.8,546.5 1137.0,546.3C1138.2,546.1 1139.3,543.1 1140.5,543.8C1141.7,544.5 1142.8,550.7 1144.0,550.5C1145.2,550.4 1146.3,546.8 1147.5,543.1C1148.7,539.4 1149.8,526.5 1151.0,528.2C1152.2,530.0 1153.3,550.9 1154.5,553.6C1155.7,556.2 1156.8,545.8 1158.0,544.2C1159.2,542.6 1160.3,543.9 1161.5,544.1C1162.7,544.3 1163.8,546.5 1165.0,545.3C1166.1,544.1 1167.3,538.3 1168.5,537.1C1169.6,535.9 1170.8,536.1 1172.0,537.9C1173.1,539.7 1174.3,546.0 1175.5,548.0C1176.6,550.0 1177.8,548.7 1179.0,550.1C1180.1,551.4 1181.3,557.1 1182.5,555.9C1183.6,554.7 1184.8,545.2 1186.0,542.9C1187.1,540.6 1188.3,540.5 1189.5,542.1C1190.6,543.8 1191.8,552.5 1193.0,552.8C1194.1,553.1 1195.3,545.9 1196.4,543.9C1197.6,541.9 1198.8,540.4 1199.9,540.9C1201.1,541.3 1202.3,545.4 1203.4,546.6C1204.6,547.7 1206.4,547.6 1206.9,547.8"/>
<path d="M102.1,590.1C102.7,593.1 104.4,605.0 105.6,607.6C106.8,610.2 107.9,603.7 109.1,605.7C110.3,607.7 111.4,619.2 112.6,619.6C113.8,620.0 114.9,607.5 116.1,608.3C117.3,609.1 118.4,625.3 119.6,624.5C120.7,623.8 121.9,608.4 123.1,604.0C124.2,599.6 125.4,600.9 126.6,598.0C127.7,595.1 128.9,584.4 130.1,586.7C131.2,589.0 132.4,607.7 133.6,611.7C134.7,615.8 135.9,610.8 137.1,610.9C138.2,611.0 139.4,611.9 140.6,612.2C141.7,612.6 142.9,612.6 144.1,612.9C145.2,613.3 146.4,615.2 147.6,614.5C148.7,613.8 149.9,608.3 151.0,608.6C152.2,609.0 153.4,615.5 154.5,616.5C155.7,617.5 156.9,613.3 158.0,614.7C159.2,616.2 160.4,622.8 161.5,625.0C162.7,627.2 163.9,627.9 165.0,627.9C166.2,627.9 167.4,624.7 168.5,625.1C169.7,625.4 170.9,630.8 172.0,630.0C173.2,629.2 174.4,623.9 175.5,620.4C176.7,616.9 177.9,610.0 179.0,609.1C180.2,608.1 181.3,614.0 182.5,614.6C183.7,615.3 184.8,614.5 186.0,613.1C187.2,611.7 188.3,606.7 189.5,606.4C190.7,606.1 191.8,608.9 193.0,611.0C194.2,613.1 195.3,619.1 196.5,619.0C197.7,618.9 198.8,611.3 200.0,610.4C201.2,609.6 202.3,613.1 203.5,614.0C204.7,614.9 205.8,616.5 207.0,615.8C208.2,615.0 209.3,608.3 210.5,609.5C211.7,610.8 212.8,620.8 214.0,623.3C215.1,625.8 216.3,625.6 217.5,624.6C218.6,623.5 219.8,618.8 221.0,617.0C222.1,615.2 223.3,614.0 224.5,613.9C225.6,613.9 226.8,618.0 228.0,616.8C229.1,615.7 230.3,608.3 231.5,606.9C232.6,605.5 233.8,608.2 235.0,608.7C236.1,609.2 237.3,609.4 238.5,609.9C239.6,610.5 240.8,611.6 242.0,611.8C243.1,612.0 244.3,609.5 245.4,611.2C246.6,612.9 247.8,620.8 248.9,622.0C250.1,623.2 251.3,619.0 252.4,618.3C253.6,617.5 254.8,617.4 255.9,617.7C257.1,618.0 258.3,620.0 259.4,620.0C260.6,620.0 261.8,618.7 262.9,617.8C264.1,616.9 265.3,614.1 266.4,614.8C267.6,615.5 268.8,620.8 269.9,622.1C271.1,623.4 272.3,623.4 273.4,622.7C274.6,622.1 275.8,617.5 276.9,618.1C278.1,618.8 279.2,626.2 280.4,626.4C281.6,626.6 282.7,621.9 283.9,619.3C285.1,616.7 286.2,610.3 287.4,610.8C288.6,611.4 289.7,621.2 290.9,622.6C292.1,624.1 293.2,619.6 294.4,619.3C295.6,619.1 296.7,621.7 297.9,621.2C299.1,620.7 300.2,619.1 301.4,616.4C302.6,613.8 303.7,604.4 304.9,605.3C306.1,606.2 307.2,621.3 308.4,621.8C309.5,622.3 310.7,608.3 311.9,608.3C313.0,608.3 314.2,619.7 315.4,621.7C316.5,623.6 317.7,620.5 318.9,620.2C320.0,619.9 321.2,618.1 322.4,619.9C323.5,621.8 324.7,630.9 325.9,631.3C327.0,631.6 328.2,623.0 329.4,622.1C330.5,621.2 331.7,627.6 332.9,625.9C334.0,624.1 335.2,612.6 336.4,611.9C337.5,611.2 338.7,623.3 339.8,621.8C341.0,620.4 342.2,604.5 343.3,603.1C344.5,601.7 345.7,610.8 346.8,613.2C348.0,615.7 349.2,618.4 350.3,617.8C351.5,617.2 352.7,609.4 353.8,609.5C355.0,609.5 356.2,615.8 357.3,618.1C358.5,620.5 359.7,624.0 360.8,623.7C362.0,623.3 363.2,616.2 364.3,615.9C365.5,615.6 366.7,621.7 367.8,621.9C369.0,622.0 370.2,616.8 371.3,617.0C372.5,617.1 373.6,622.5 374.8,622.8C376.0,623.1 377.1,620.2 378.3,618.8C379.5,617.3 380.6,613.0 381.8,614.0C383.0,615.0 384.1,622.2 385.3,624.6C386.5,627.0 387.6,629.1 388.8,628.4C390.0,627.7 391.1,619.7 392.3,620.3C393.5,620.9 394.6,630.2 395.8,631.8C397.0,633.5 398.1,631.9 399.3,630.3C400.5,628.7 401.6,621.9 402.8,622.2C403.9,622.6 405.1,632.9 406.3,632.4C407.4,632.0 408.6,620.5 409.8,619.4C410.9,618.4 412.1,626.2 413.3,626.1C414.4,626.0 415.6,620.6 416.8,618.7C417.9,616.8 419.1,613.4 420.3,614.7C421.4,616.0 422.6,625.5 423.8,626.6C424.9,627.7 426.1,621.7 427.3,621.3C428.4,620.9 429.6,624.5 430.8,624.2C431.9,624.0 433.1,620.2 434.3,619.9C435.4,619.6 436.6,620.2 437.7,622.4C438.9,624.6 440.1,632.1 441.2,633.1C442.4,634.1 443.6,628.6 444.7,628.6C445.9,628.5 447.1,632.6 448.2,632.8C449.4,633.0 450.6,631.3 451.7,629.9C452.9,628.6 454.1,626.9 455.2,624.7C456.4,622.5 457.6,617.5 458.7,616.7C459.9,615.9 461.1,618.2 462.2,620.0C463.4,621.8 464.6,626.3 465.7,627.8C466.9,629.3 468.0,630.6 469.2,629.0C470.4,627.5 471.5,617.3 472.7,618.5C473.9,619.6 475.0,634.8 476.2,636.0C477.4,637.1 478.5,629.1 479.7,625.6C480.9,622.0 482.0,614.1 483.2,614.4C484.4,614.6 485.5,625.2 486.7,626.9C487.9,628.7 489.0,625.3 490.2,624.7C491.4,624.1 492.5,623.4 493.7,623.4C494.9,623.4 496.0,623.7 497.2,624.7C498.3,625.6 499.5,628.7 500.7,629.1C501.8,629.5 503.0,626.8 504.2,627.2C505.3,627.6 506.5,629.7 507.7,631.4C508.8,633.1 510.0,635.8 511.2,637.4C512.3,639.0 513.5,638.8 514.7,641.1C515.8,643.4 517.0,651.7 518.2,651.4C519.3,651.1 520.5,641.8 521.7,639.4C522.8,637.0 524.0,636.9 525.2,636.7C526.3,636.5 527.5,636.9 528.7,638.2C529.8,639.6 531.0,642.4 532.1,644.9C533.3,647.4 534.5,654.4 535.6,653.1C536.8,651.7 538.0,638.5 539.1,636.8C540.3,635.0 541.5,641.7 542.6,642.5C543.8,643.2 545.0,639.8 546.1,641.4C547.3,643.1 548.5,652.0 549.6,652.3C550.8,652.6 552.0,643.3 553.1,643.3C554.3,643.4 555.5,652.1 556.6,652.6C557.8,653.1 559.0,647.3 560.1,646.3C561.3,645.3 562.4,646.5 563.6,646.5C564.8,646.4 565.9,648.0 567.1,646.1C568.3,644.2 569.4,636.2 570.6,635.1C571.8,633.9 572.9,637.4 574.1,639.3C575.3,641.1 576.4,644.5 577.6,646.0C578.8,647.5 579.9,649.5 581.1,648.3C582.3,647.2 583.4,639.8 584.6,638.8C585.8,637.9 586.9,642.1 588.1,642.8C589.3,643.5 590.4,641.3 591.6,643.0C592.8,644.7 593.9,651.6 595.1,652.8C596.2,653.9 597.4,651.1 598.6,649.8C599.7,648.6 600.9,645.0 602.1,645.3C603.2,645.5 604.4,650.7 605.6,651.4C606.7,652.1 607.9,650.7 609.1,649.7C610.2,648.6 611.4,645.8 612.6,645.3C613.7,644.8 614.9,646.9 616.1,646.4C617.2,645.9 618.4,642.7 619.6,642.6C620.7,642.4 621.9,643.7 623.1,645.5C624.2,647.3 625.4,652.9 626.5,653.5C627.7,654.2 628.9,652.2 630.0,649.3C631.2,646.4 632.4,635.8 633.5,636.1C634.7,636.4 635.9,649.3 637.0,651.3C638.2,653.4 639.4,650.2 640.5,648.4C641.7,646.6 642.9,640.3 644.0,640.7C645.2,641.0 646.4,648.8 647.5,650.5C648.7,652.2 649.9,650.9 651.0,650.9C652.2,650.9 653.4,650.9 654.5,650.3C655.7,649.7 656.8,647.9 658.0,647.1C659.2,646.3 660.3,647.3 661.5,645.5C662.7,643.6 663.8,636.7 665.0,636.2C666.2,635.7 667.3,640.6 668.5,642.2C669.7,643.9 670.8,644.3 672.0,646.1C673.2,647.9 674.3,652.6 675.5,652.9C676.7,653.2 677.8,648.2 679.0,648.1C680.2,648.0 681.3,653.4 682.5,652.4C683.7,651.3 684.8,643.3 686.0,641.9C687.2,640.5 688.3,643.6 689.5,643.7C690.6,643.9 691.8,640.9 693.0,642.9C694.1,644.9 695.3,655.7 696.5,655.9C697.6,656.1 698.8,645.2 700.0,644.1C701.1,642.9 702.3,648.4 703.5,649.0C704.6,649.6 705.8,647.9 707.0,647.6C708.1,647.4 709.3,646.1 710.5,647.5C711.6,648.9 712.8,654.2 714.0,656.0C715.1,657.7 716.3,659.9 717.5,658.1C718.6,656.4 719.8,646.8 720.9,645.5C722.1,644.2 723.3,650.3 724.4,650.3C725.6,650.4 726.8,645.3 727.9,645.7C729.1,646.1 730.3,652.1 731.4,652.7C732.6,653.3 733.8,648.9 734.9,649.3C736.1,649.7 737.3,655.2 738.4,655.3C739.6,655.4 740.8,650.1 741.9,649.7C743.1,649.3 744.3,652.5 745.4,652.7C746.6,652.9 747.8,651.7 748.9,650.9C750.1,650.0 751.3,648.1 752.4,647.6C753.6,647.0 754.7,645.7 755.9,647.7C757.1,649.8 758.2,657.3 759.4,659.8C760.6,662.3 761.7,663.0 762.9,662.7C764.1,662.5 765.2,660.9 766.4,658.5C767.6,656.0 768.7,648.9 769.9,648.0C771.1,647.0 772.2,652.8 773.4,652.7C774.6,652.5 775.7,649.9 776.9,647.0C778.1,644.1 779.2,633.3 780.4,635.2C781.6,637.2 782.7,655.5 783.9,658.6C785.0,661.7 786.2,654.0 787.4,653.9C788.5,653.8 789.7,657.9 790.9,658.0C792.0,658.2 793.2,656.3 794.4,654.7C795.5,653.2 796.7,649.4 797.9,648.5C799.0,647.6 800.2,650.1 801.4,649.5C802.5,648.8 803.7,644.9 804.9,644.6C806.0,644.3 807.2,646.9 808.4,647.6C809.5,648.3 810.7,649.2 811.9,648.8C813.0,648.4 814.2,645.3 815.3,645.1C816.5,644.8 817.7,646.1 818.8,647.3C820.0,648.5 821.2,651.5 822.3,652.3C823.5,653.1 824.7,652.7 825.8,652.2C827.0,651.7 828.2,649.0 829.3,649.4C830.5,649.7 831.7,654.7 832.8,654.2C834.0,653.8 835.2,647.8 836.3,646.7C837.5,645.5 838.7,645.3 839.8,647.2C841.0,649.1 842.2,655.8 843.3,658.0C844.5,660.2 845.7,661.1 846.8,660.2C848.0,659.4 849.1,653.1 850.3,653.0C851.5,653.0 852.6,659.0 853.8,659.7C855.0,660.4 856.1,657.7 857.3,657.4C858.5,657.1 859.6,657.3 860.8,658.0C862.0,658.7 863.1,661.1 864.3,661.6C865.5,662.1 866.6,662.7 867.8,661.1C869.0,659.5 870.1,652.8 871.3,652.1C872.5,651.3 873.6,654.4 874.8,656.5C876.0,658.6 877.1,664.2 878.3,664.6C879.4,665.1 880.6,657.8 881.8,659.1C882.9,660.3 884.1,672.5 885.3,672.4C886.4,672.2 887.6,659.3 888.8,658.1C889.9,656.9 891.1,664.1 892.3,665.1C893.4,666.1 894.6,664.8 895.8,664.1C896.9,663.3 898.1,662.2 899.3,660.7C900.4,659.2 901.6,656.3 902.8,655.2C903.9,654.1 905.1,654.4 906.3,654.2C907.4,654.0 908.6,651.9 909.7,654.0C910.9,656.1 912.1,667.8 913.2,667.1C914.4,666.4 915.6,653.9 916.7,649.8C917.9,645.8 919.1,641.6 920.2,642.9C921.4,644.1 922.6,654.6 923.7,657.2C924.9,659.9 926.1,657.8 927.2,658.7C928.4,659.6 929.6,662.2 930.7,662.6C931.9,663.0 933.1,660.0 934.2,661.1C935.4,662.1 936.6,669.4 937.7,669.0C938.9,668.7 940.1,659.4 941.2,658.9C942.4,658.5 943.5,665.8 944.7,666.2C945.9,666.6 947.0,662.1 948.2,661.3C949.4,660.4 950.5,658.6 951.7,660.9C952.9,663.3 954.0,675.5 955.2,675.4C956.4,675.3 957.5,662.2 958.7,660.1C959.9,658.0 961.0,661.1 962.2,662.6C963.4,664.1 964.5,668.5 965.7,669.1C966.9,669.7 968.0,666.9 969.2,666.4C970.4,665.8 971.5,666.4 972.7,665.9C973.8,665.4 975.0,663.0 976.2,663.3C977.3,663.7 978.5,669.8 979.7,667.8C980.8,665.8 982.0,653.9 983.2,651.2C984.3,648.5 985.5,650.8 986.7,651.6C987.8,652.5 989.0,654.4 990.2,656.2C991.3,658.0 992.5,661.4 993.7,662.4C994.8,663.4 996.0,661.4 997.2,662.2C998.3,663.0 999.5,667.6 1000.7,667.1C1001.8,666.5 1003.0,659.4 1004.2,658.7C1005.3,658.1 1006.5,662.9 1007.6,663.0C1008.8,663.1 1010.0,662.0 1011.1,659.5C1012.3,657.0 1013.5,646.8 1014.6,647.9C1015.8,649.0 1017.0,664.5 1018.1,666.1C1019.3,667.8 1020.5,660.0 1021.6,657.6C1022.8,655.2 1024.0,651.0 1025.1,651.8C1026.3,652.5 1027.5,660.0 1028.6,662.2C1029.8,664.4 1031.0,665.2 1032.1,665.0C1033.3,664.8 1034.5,659.9 1035.6,660.9C1036.8,661.9 1037.9,671.1 1039.1,671.1C1040.3,671.1 1041.4,662.1 1042.6,660.9C1043.8,659.6 1044.9,664.0 1046.1,663.7C1047.3,663.4 1048.4,660.5 1049.6,658.8C1050.8,657.2 1051.9,654.3 1053.1,653.7C1054.3,653.1 1055.4,653.8 1056.6,655.3C1057.8,656.9 1058.9,663.0 1060.1,662.8C1061.3,662.6 1062.4,655.8 1063.6,654.0C1064.8,652.3 1065.9,649.5 1067.1,652.3C1068.2,655.1 1069.4,670.1 1070.6,670.9C1071.7,671.8 1072.9,659.9 1074.1,657.3C1075.2,654.8 1076.4,655.5 1077.6,655.6C1078.7,655.8 1079.9,658.4 1081.1,658.1C1082.2,657.8 1083.4,654.0 1084.6,653.7C1085.7,653.4 1086.9,654.3 1088.1,656.1C1089.2,657.8 1090.4,664.6 1091.6,664.2C1092.7,663.8 1093.9,654.1 1095.1,653.6C1096.2,653.1 1097.4,660.6 1098.6,661.3C1099.7,661.9 1100.9,657.8 1102.0,657.5C1103.2,657.3 1104.4,659.8 1105.5,659.8C1106.7,659.8 1107.9,658.0 1109.0,657.8C1110.2,657.5 1111.4,658.6 1112.5,658.4C1113.7,658.3 1114.9,656.6 1116.0,656.9C1117.2,657.2 1118.4,658.6 1119.5,660.2C1120.7,661.8 1121.9,668.0 1123.0,666.4C1124.2,664.9 1125.4,651.9 1126.5,650.7C1127.7,649.4 1128.9,658.3 1130.0,658.8C1131.2,659.2 1132.3,654.2 1133.5,653.5C1134.7,652.8 1135.8,654.5 1137.0,654.6C1138.2,654.6 1139.3,653.8 1140.5,653.6C1141.7,653.4 1142.8,652.7 1144.0,653.3C1145.2,653.9 1146.3,659.8 1147.5,657.5C1148.7,655.1 1149.8,636.4 1151.0,639.0C1152.2,641.6 1153.3,671.2 1154.5,673.0C1155.7,674.7 1156.8,652.0 1158.0,649.4C1159.2,646.9 1160.3,656.0 1161.5,657.6C1162.7,659.3 1163.8,659.7 1165.0,659.1C1166.1,658.4 1167.3,654.4 1168.5,653.8C1169.6,653.3 1170.8,655.6 1172.0,655.8C1173.1,656.0 1174.3,652.9 1175.5,655.1C1176.6,657.2 1177.8,667.8 1179.0,668.7C1180.1,669.7 1181.3,662.4 1182.5,660.9C1183.6,659.4 1184.8,661.6 1186.0,659.8C1187.1,658.0 1188.3,649.7 1189.5,649.9C1190.6,650.1 1191.8,659.8 1193.0,660.9C1194.1,662.1 1195.3,657.5 1196.4,656.9C1197.6,656.2 1198.8,658.8 1199.9,657.2C1201.1,655.5 1202.3,648.7 1203.4,646.9C1204.6,645.1 1206.4,646.4 1206.9,646.3"/>
</g>
<g fill="none" stroke-width="2.7" stroke-linejoin="round" stroke-linecap="square">
<path d="M102.10,608.70 L135.90,608.70 L138.23,600.99 L140.56,593.36 L142.89,585.82 L145.22,578.36 L147.55,570.98 L149.88,563.69 L152.21,556.48 L154.54,549.36 L156.88,542.31 L159.21,535.34 L161.54,528.45 L163.87,521.64 L166.20,514.90 L168.53,508.24 L170.86,501.65 L173.19,495.14 L175.52,488.70 L177.85,482.34 L180.18,476.04 L182.52,469.82 L184.85,463.67 L187.18,457.58 L189.51,451.56 L191.84,445.62 L194.17,439.73 L196.50,433.92 L198.83,428.17 L201.16,422.48 L203.49,416.86 L205.82,411.30 L208.16,405.81 L210.49,400.37 L212.82,395.00 L215.15,389.68 L217.48,384.43 L219.81,379.24 L222.14,374.10 L224.47,369.02 L226.80,364.00 L229.13,359.04 L231.46,354.13 L233.79,349.27 L236.13,344.47 L238.46,339.73 L240.79,335.04 L243.12,330.40 L245.45,325.81 L247.78,321.28 L250.11,316.79 L252.44,312.36 L254.77,307.97 L257.10,303.64 L259.43,299.35 L261.77,295.11 L264.10,290.92 L266.43,286.78 L268.76,282.68 L271.09,278.63 L273.42,274.63 L275.75,270.67 L278.08,266.75 L280.41,262.88 L282.74,259.05 L285.07,255.26 L287.40,251.52 L289.74,247.82 L292.07,244.16 L294.40,240.54 L296.73,236.97 L299.06,233.43 L301.39,229.93 L303.72,226.47 L306.05,223.05 L308.38,219.67 L310.71,216.33 L313.04,213.03 L315.38,209.76 L317.71,206.53 L320.04,203.33 L322.37,200.17 L324.70,197.05 L327.03,193.96 L329.36,190.91 L331.69,187.89 L334.02,184.90 L336.35,181.95 L338.68,179.03 L341.02,176.14 L343.35,173.29 L345.68,170.47 L348.01,167.68 L350.34,164.92 L352.67,162.19 L355.00,159.50 L357.33,156.83 L359.66,154.19 L361.99,151.59 L364.32,149.01 L366.65,146.46 L368.99,143.94 L371.32,141.45 L373.65,138.99 L375.98,136.55 L378.31,134.14 L380.64,131.76 L382.97,129.40 L385.30,127.08 L387.63,124.77 L389.96,122.50 L392.29,120.25 L394.63,118.02 L396.96,115.82 L399.29,113.65 L401.62,111.49 L403.95,109.37 L406.28,107.26 L408.61,105.18 L410.94,103.13 L413.27,101.10 L415.60,99.08 L417.93,97.10 L420.27,95.13 L422.60,93.19 L424.93,91.27 L427.26,89.37 L429.59,87.49 L431.92,85.63 L434.25,83.80 L436.58,81.98 L438.91,80.18 L441.24,78.41 L443.57,76.65 L445.90,74.92 L448.24,73.20 L450.57,71.51 L452.90,69.83 L455.23,68.17 L457.56,66.53 L459.89,64.91 L462.22,63.30 L464.55,61.72 L466.88,60.15 L469.21,58.60 L471.54,57.07 L473.88,55.55 L476.21,54.05 L478.54,52.57 L480.87,51.11 L483.20,49.66 L485.53,48.23 L487.86,46.81 L490.19,45.41 L491.47,44.65 L497.30,47.33 L503.13,50.00 L508.96,52.66 L514.78,55.31 L520.61,57.94 L526.44,60.56 L532.26,63.17 L538.09,65.77 L543.92,68.35 L549.75,70.92 L555.57,73.48 L561.40,76.03 L567.23,78.56 L573.05,81.08 L578.88,83.60 L584.71,86.09 L590.54,88.58 L596.36,91.06 L602.19,93.52 L608.02,95.97 L613.84,98.41 L619.67,100.84 L625.50,103.26 L631.33,105.66 L637.15,108.05 L642.98,110.44 L648.81,112.81 L654.64,115.17 L660.46,117.52 L666.29,119.85 L672.12,122.18 L677.94,124.50 L683.77,126.80 L689.60,129.09 L695.43,131.38 L701.25,133.65 L707.08,135.91 L712.91,138.16 L718.73,140.40 L724.56,142.62 L730.39,144.84 L736.22,147.05 L742.04,149.25 L747.87,151.43 L753.70,153.61 L759.52,155.77 L765.35,157.93 L771.18,160.08 L777.01,162.21 L782.83,164.33 L788.66,166.45 L794.49,168.55 L800.32,170.65 L806.14,172.73 L811.97,174.81 L817.80,176.87 L823.62,178.93 L829.45,180.97 L835.28,183.01 L841.11,185.03 L846.93,187.05 L852.76,189.06 L858.59,191.05 L864.41,193.04 L870.24,195.02 L876.07,196.99 L881.90,198.95 L887.72,200.90 L893.55,202.84 L899.38,204.77 L905.20,206.69 L911.03,208.60 L916.86,210.51 L922.69,212.40 L928.51,214.29 L934.34,216.16 L940.17,218.03 L946.00,219.89 L951.82,221.74 L957.65,223.58 L963.48,225.42 L969.30,227.24 L975.13,229.05 L980.96,230.86 L986.79,232.66 L992.61,234.45 L998.44,236.23 L1004.27,238.00 L1010.09,239.77 L1015.92,241.52 L1021.75,243.27 L1027.58,245.01 L1033.40,246.74 L1039.23,248.46 L1045.06,250.18 L1050.88,251.88 L1056.71,253.58 L1062.54,255.27 L1068.37,256.95 L1074.19,258.63 L1080.02,260.29 L1085.85,261.95 L1091.68,263.60 L1097.50,265.24 L1103.33,266.88 L1109.16,268.50 L1114.98,270.12 L1120.81,271.73 L1126.64,273.34 L1132.47,274.93 L1138.29,276.52 L1144.12,278.10 L1149.95,279.67 L1155.77,281.24 L1161.60,282.80 L1167.43,284.35 L1173.26,285.89 L1179.08,287.43 L1184.91,288.96 L1190.74,290.48 L1196.56,291.99 L1202.39,293.50 L1206.94,294.67" stroke="#0000ff"/>
<path d="M102.10,608.70 L135.90,608.70 L138.23,604.80 L140.56,600.95 L142.89,597.14 L145.22,593.38 L147.55,589.66 L149.88,585.99 L152.21,582.36 L154.54,578.77 L156.88,575.22 L159.21,571.72 L161.54,568.26 L163.87,564.83 L166.20,561.45 L168.53,558.11 L170.86,554.81 L173.19,551.54 L175.52,548.32 L177.85,545.13 L180.18,541.98 L182.52,538.87 L184.85,535.79 L187.18,532.75 L189.51,529.75 L191.84,526.78 L194.17,523.85 L196.50,520.95 L198.83,518.08 L201.16,515.25 L203.49,512.46 L205.82,509.69 L208.16,506.96 L210.49,504.26 L212.82,501.59 L215.15,498.95 L217.48,496.35 L219.81,493.77 L222.14,491.23 L224.47,488.71 L226.80,486.23 L229.13,483.77 L231.46,481.35 L233.79,478.95 L236.13,476.58 L238.46,474.24 L240.79,471.92 L243.12,469.63 L245.45,467.37 L247.78,465.14 L250.11,462.93 L252.44,460.75 L254.77,458.60 L257.10,456.47 L259.43,454.36 L261.77,452.28 L264.10,450.22 L266.43,448.19 L268.76,446.18 L271.09,444.20 L273.42,442.24 L275.75,440.30 L278.08,438.39 L280.41,436.50 L282.74,434.63 L285.07,432.78 L287.40,430.95 L289.74,429.15 L292.07,427.36 L294.40,425.60 L296.73,423.86 L299.06,422.14 L301.39,420.44 L303.72,418.76 L306.05,417.10 L308.38,415.45 L310.71,413.83 L313.04,412.23 L315.38,410.64 L317.71,409.08 L320.04,407.53 L322.37,406.00 L324.70,404.49 L327.03,403.00 L329.36,401.52 L331.69,400.07 L334.02,398.63 L336.35,397.20 L338.68,395.79 L341.02,394.40 L343.35,393.03 L345.68,391.67 L348.01,390.33 L350.34,389.00 L352.67,387.69 L355.00,386.40 L357.33,385.12 L359.66,383.85 L361.99,382.60 L364.32,381.37 L366.65,380.15 L368.99,378.94 L371.32,377.75 L373.65,376.57 L375.98,375.41 L378.31,374.26 L380.64,373.12 L382.97,372.00 L385.30,370.89 L387.63,369.79 L389.96,368.70 L392.29,367.63 L394.63,366.57 L396.96,365.53 L399.29,364.49 L401.62,363.47 L403.95,362.46 L406.28,361.46 L408.61,360.48 L410.94,359.50 L413.27,358.54 L415.60,357.59 L417.93,356.65 L420.27,355.72 L422.60,354.80 L424.93,353.89 L427.26,353.00 L429.59,352.11 L431.92,351.23 L434.25,350.37 L436.58,349.51 L438.91,348.67 L441.24,347.83 L443.57,347.01 L445.90,346.19 L448.24,345.38 L450.57,344.59 L452.90,343.80 L455.23,343.02 L457.56,342.25 L459.89,341.49 L462.22,340.74 L464.55,340.00 L466.88,339.27 L469.21,338.54 L471.54,337.83 L473.88,337.12 L476.21,336.42 L478.54,335.73 L480.87,335.05 L483.20,334.37 L485.53,333.70 L487.86,333.04 L490.19,332.39 L491.47,332.04 L497.30,333.51 L503.13,334.97 L508.96,336.43 L514.78,337.87 L520.61,339.31 L526.44,340.75 L532.26,342.17 L538.09,343.59 L543.92,345.00 L549.75,346.40 L555.57,347.79 L561.40,349.18 L567.23,350.56 L573.05,351.93 L578.88,353.30 L584.71,354.65 L590.54,356.00 L596.36,357.35 L602.19,358.68 L608.02,360.01 L613.84,361.33 L619.67,362.65 L625.50,363.96 L631.33,365.26 L637.15,366.55 L642.98,367.84 L648.81,369.12 L654.64,370.39 L660.46,371.66 L666.29,372.92 L672.12,374.17 L677.94,375.42 L683.77,376.66 L689.60,377.89 L695.43,379.12 L701.25,380.34 L707.08,381.56 L712.91,382.76 L718.73,383.96 L724.56,385.16 L730.39,386.35 L736.22,387.53 L742.04,388.70 L747.87,389.87 L753.70,391.04 L759.52,392.19 L765.35,393.34 L771.18,394.49 L777.01,395.63 L782.83,396.76 L788.66,397.89 L794.49,399.01 L800.32,400.12 L806.14,401.23 L811.97,402.33 L817.80,403.43 L823.62,404.52 L829.45,405.61 L835.28,406.69 L841.11,407.76 L846.93,408.83 L852.76,409.89 L858.59,410.95 L864.41,412.00 L870.24,413.05 L876.07,414.09 L881.90,415.12 L887.72,416.15 L893.55,417.17 L899.38,418.19 L905.20,419.20 L911.03,420.21 L916.86,421.21 L922.69,422.21 L928.51,423.20 L934.34,424.19 L940.17,425.17 L946.00,426.14 L951.82,427.11 L957.65,428.08 L963.48,429.04 L969.30,429.99 L975.13,430.94 L980.96,431.89 L986.79,432.83 L992.61,433.76 L998.44,434.69 L1004.27,435.62 L1010.09,436.54 L1015.92,437.45 L1021.75,438.36 L1027.58,439.27 L1033.40,440.17 L1039.23,441.07 L1045.06,441.96 L1050.88,442.84 L1056.71,443.73 L1062.54,444.60 L1068.37,445.48 L1074.19,446.34 L1080.02,447.21 L1085.85,448.06 L1091.68,448.92 L1097.50,449.77 L1103.33,450.61 L1109.16,451.45 L1114.98,452.29 L1120.81,453.12 L1126.64,453.95 L1132.47,454.77 L1138.29,455.59 L1144.12,456.40 L1149.95,457.21 L1155.77,458.02 L1161.60,458.82 L1167.43,459.61 L1173.26,460.41 L1179.08,461.20 L1184.91,461.98 L1190.74,462.76 L1196.56,463.54 L1202.39,464.31 L1206.94,464.91" stroke="#00f400"/>
<path d="M102.10,608.70 L135.90,608.70 L138.23,606.90 L140.56,605.13 L142.89,603.37 L145.22,601.64 L147.55,599.92 L149.88,598.23 L152.21,596.55 L154.54,594.90 L156.88,593.26 L159.21,591.65 L161.54,590.05 L163.87,588.47 L166.20,586.91 L168.53,585.36 L170.86,583.84 L173.19,582.33 L175.52,580.84 L177.85,579.37 L180.18,577.91 L182.52,576.47 L184.85,575.05 L187.18,573.64 L189.51,572.25 L191.84,570.88 L194.17,569.52 L196.50,568.18 L198.83,566.85 L201.16,565.54 L203.49,564.25 L205.82,562.97 L208.16,561.70 L210.49,560.45 L212.82,559.21 L215.15,557.99 L217.48,556.78 L219.81,555.59 L222.14,554.41 L224.47,553.24 L226.80,552.09 L229.13,550.95 L231.46,549.83 L233.79,548.71 L236.13,547.61 L238.46,546.53 L240.79,545.45 L243.12,544.39 L245.45,543.34 L247.78,542.30 L250.11,541.28 L252.44,540.26 L254.77,539.26 L257.10,538.27 L259.43,537.29 L261.77,536.32 L264.10,535.37 L266.43,534.42 L268.76,533.49 L271.09,532.56 L273.42,531.65 L275.75,530.75 L278.08,529.86 L280.41,528.98 L282.74,528.11 L285.07,527.24 L287.40,526.39 L289.74,525.55 L292.07,524.72 L294.40,523.90 L296.73,523.09 L299.06,522.29 L301.39,521.49 L303.72,520.71 L306.05,519.93 L308.38,519.17 L310.71,518.41 L313.04,517.66 L315.38,516.92 L317.71,516.19 L320.04,515.47 L322.37,514.75 L324.70,514.05 L327.03,513.35 L329.36,512.66 L331.69,511.98 L334.02,511.31 L336.35,510.64 L338.68,509.98 L341.02,509.33 L343.35,508.69 L345.68,508.05 L348.01,507.42 L350.34,506.80 L352.67,506.19 L355.00,505.58 L357.33,504.98 L359.66,504.39 L361.99,503.81 L364.32,503.23 L366.65,502.66 L368.99,502.09 L371.32,501.53 L373.65,500.98 L375.98,500.43 L378.31,499.89 L380.64,499.36 L382.97,498.83 L385.30,498.31 L387.63,497.80 L389.96,497.29 L392.29,496.78 L394.63,496.29 L396.96,495.80 L399.29,495.31 L401.62,494.83 L403.95,494.35 L406.28,493.89 L408.61,493.42 L410.94,492.96 L413.27,492.51 L415.60,492.06 L417.93,491.62 L420.27,491.18 L422.60,490.75 L424.93,490.32 L427.26,489.90 L429.59,489.48 L431.92,489.07 L434.25,488.66 L436.58,488.26 L438.91,487.86 L441.24,487.47 L443.57,487.08 L445.90,486.69 L448.24,486.31 L450.57,485.94 L452.90,485.57 L455.23,485.20 L457.56,484.84 L459.89,484.48 L462.22,484.12 L464.55,483.77 L466.88,483.43 L469.21,483.09 L471.54,482.75 L473.88,482.41 L476.21,482.08 L478.54,481.76 L480.87,481.43 L483.20,481.11 L485.53,480.80 L487.86,480.49 L490.19,480.18 L491.47,480.01 L497.30,480.69 L503.13,481.36 L508.96,482.03 L514.78,482.70 L520.61,483.36 L526.44,484.02 L532.26,484.67 L538.09,485.32 L543.92,485.97 L549.75,486.62 L555.57,487.26 L561.40,487.90 L567.23,488.53 L573.05,489.16 L578.88,489.79 L584.71,490.42 L590.54,491.04 L596.36,491.66 L602.19,492.27 L608.02,492.88 L613.84,493.49 L619.67,494.10 L625.50,494.70 L631.33,495.30 L637.15,495.90 L642.98,496.49 L648.81,497.08 L654.64,497.67 L660.46,498.25 L666.29,498.83 L672.12,499.41 L677.94,499.98 L683.77,500.55 L689.60,501.12 L695.43,501.69 L701.25,502.25 L707.08,502.81 L712.91,503.37 L718.73,503.92 L724.56,504.47 L730.39,505.02 L736.22,505.56 L742.04,506.10 L747.87,506.64 L753.70,507.18 L759.52,507.71 L765.35,508.25 L771.18,508.77 L777.01,509.30 L782.83,509.82 L788.66,510.34 L794.49,510.86 L800.32,511.37 L806.14,511.88 L811.97,512.39 L817.80,512.90 L823.62,513.40 L829.45,513.90 L835.28,514.40 L841.11,514.90 L846.93,515.39 L852.76,515.88 L858.59,516.37 L864.41,516.85 L870.24,517.34 L876.07,517.82 L881.90,518.29 L887.72,518.77 L893.55,519.24 L899.38,519.71 L905.20,520.18 L911.03,520.65 L916.86,521.11 L922.69,521.57 L928.51,522.03 L934.34,522.48 L940.17,522.94 L946.00,523.39 L951.82,523.83 L957.65,524.28 L963.48,524.72 L969.30,525.17 L975.13,525.60 L980.96,526.04 L986.79,526.48 L992.61,526.91 L998.44,527.34 L1004.27,527.77 L1010.09,528.19 L1015.92,528.61 L1021.75,529.04 L1027.58,529.45 L1033.40,529.87 L1039.23,530.28 L1045.06,530.70 L1050.88,531.11 L1056.71,531.51 L1062.54,531.92 L1068.37,532.32 L1074.19,532.73 L1080.02,533.12 L1085.85,533.52 L1091.68,533.92 L1097.50,534.31 L1103.33,534.70 L1109.16,535.09 L1114.98,535.48 L1120.81,535.86 L1126.64,536.24 L1132.47,536.63 L1138.29,537.00 L1144.12,537.38 L1149.95,537.76 L1155.77,538.13 L1161.60,538.50 L1167.43,538.87 L1173.26,539.24 L1179.08,539.60 L1184.91,539.96 L1190.74,540.33 L1196.56,540.68 L1202.39,541.04 L1206.94,541.32" stroke="#ffd700"/>
<path d="M102.10,608.70 L135.90,608.70 L138.23,607.42 L140.56,606.16 L142.89,604.91 L145.22,603.69 L147.55,602.47 L149.88,601.28 L152.21,600.10 L154.54,598.93 L156.88,597.79 L159.21,596.65 L161.54,595.53 L163.87,594.43 L166.20,593.34 L168.53,592.27 L170.86,591.21 L173.19,590.16 L175.52,589.13 L177.85,588.11 L180.18,587.11 L182.52,586.12 L184.85,585.14 L187.18,584.17 L189.51,583.22 L191.84,582.28 L194.17,581.36 L196.50,580.44 L198.83,579.54 L201.16,578.65 L203.49,577.77 L205.82,576.90 L208.16,576.05 L210.49,575.20 L212.82,574.37 L215.15,573.55 L217.48,572.74 L219.81,571.94 L222.14,571.15 L224.47,570.37 L226.80,569.60 L229.13,568.84 L231.46,568.10 L233.79,567.36 L236.13,566.63 L238.46,565.91 L240.79,565.20 L243.12,564.50 L245.45,563.81 L247.78,563.13 L250.11,562.46 L252.44,561.80 L254.77,561.14 L257.10,560.50 L259.43,559.86 L261.77,559.23 L264.10,558.61 L266.43,558.00 L268.76,557.40 L271.09,556.80 L273.42,556.21 L275.75,555.63 L278.08,555.06 L280.41,554.50 L282.74,553.94 L285.07,553.39 L287.40,552.85 L289.74,552.31 L292.07,551.78 L294.40,551.26 L296.73,550.75 L299.06,550.24 L301.39,549.74 L303.72,549.25 L306.05,548.76 L308.38,548.28 L310.71,547.81 L313.04,547.34 L315.38,546.88 L317.71,546.42 L320.04,545.97 L322.37,545.53 L324.70,545.09 L327.03,544.66 L329.36,544.23 L331.69,543.81 L334.02,543.40 L336.35,542.99 L338.68,542.59 L341.02,542.19 L343.35,541.79 L345.68,541.41 L348.01,541.02 L350.34,540.65 L352.67,540.27 L355.00,539.91 L357.33,539.54 L359.66,539.19 L361.99,538.83 L364.32,538.48 L366.65,538.14 L368.99,537.80 L371.32,537.47 L373.65,537.14 L375.98,536.81 L378.31,536.49 L380.64,536.17 L382.97,535.86 L385.30,535.55 L387.63,535.24 L389.96,534.94 L392.29,534.65 L394.63,534.35 L396.96,534.07 L399.29,533.78 L401.62,533.50 L403.95,533.22 L406.28,532.95 L408.61,532.68 L410.94,532.41 L413.27,532.15 L415.60,531.89 L417.93,531.63 L420.27,531.38 L422.60,531.13 L424.93,530.89 L427.26,530.64 L429.59,530.40 L431.92,530.17 L434.25,529.94 L436.58,529.71 L438.91,529.48 L441.24,529.25 L443.57,529.03 L445.90,528.82 L448.24,528.60 L450.57,528.39 L452.90,528.18 L455.23,527.97 L457.56,527.77 L459.89,527.57 L462.22,527.37 L464.55,527.17 L466.88,526.98 L469.21,526.79 L471.54,526.60 L473.88,526.42 L476.21,526.23 L478.54,526.05 L480.87,525.87 L483.20,525.70 L485.53,525.52 L487.86,525.35 L490.19,525.18 L491.47,525.09 L497.30,525.58 L503.13,526.07 L508.96,526.56 L514.78,527.04 L520.61,527.52 L526.44,528.00 L532.26,528.48 L538.09,528.95 L543.92,529.42 L549.75,529.88 L555.57,530.35 L561.40,530.81 L567.23,531.27 L573.05,531.72 L578.88,532.17 L584.71,532.62 L590.54,533.07 L596.36,533.52 L602.19,533.96 L608.02,534.40 L613.84,534.84 L619.67,535.27 L625.50,535.70 L631.33,536.13 L637.15,536.56 L642.98,536.98 L648.81,537.40 L654.64,537.82 L660.46,538.24 L666.29,538.66 L672.12,539.07 L677.94,539.48 L683.77,539.88 L689.60,540.29 L695.43,540.69 L701.25,541.09 L707.08,541.49 L712.91,541.88 L718.73,542.28 L724.56,542.67 L730.39,543.06 L736.22,543.44 L742.04,543.83 L747.87,544.21 L753.70,544.59 L759.52,544.97 L765.35,545.34 L771.18,545.71 L777.01,546.08 L782.83,546.45 L788.66,546.82 L794.49,547.18 L800.32,547.54 L806.14,547.90 L811.97,548.26 L817.80,548.62 L823.62,548.97 L829.45,549.32 L835.28,549.67 L841.11,550.02 L846.93,550.36 L852.76,550.71 L858.59,551.05 L864.41,551.39 L870.24,551.72 L876.07,552.06 L881.90,552.39 L887.72,552.72 L893.55,553.05 L899.38,553.38 L905.20,553.71 L911.03,554.03 L916.86,554.35 L922.69,554.67 L928.51,554.99 L934.34,555.30 L940.17,555.62 L946.00,555.93 L951.82,556.24 L957.65,556.55 L963.48,556.86 L969.30,557.16 L975.13,557.46 L980.96,557.77 L986.79,558.07 L992.61,558.36 L998.44,558.66 L1004.27,558.95 L1010.09,559.25 L1015.92,559.54 L1021.75,559.83 L1027.58,560.11 L1033.40,560.40 L1039.23,560.68 L1045.06,560.97 L1050.88,561.25 L1056.71,561.53 L1062.54,561.80 L1068.37,562.08 L1074.19,562.35 L1080.02,562.63 L1085.85,562.90 L1091.68,563.17 L1097.50,563.44 L1103.33,563.70 L1109.16,563.97 L1114.98,564.23 L1120.81,564.49 L1126.64,564.75 L1132.47,565.01 L1138.29,565.27 L1144.12,565.52 L1149.95,565.78 L1155.77,566.03 L1161.60,566.28 L1167.43,566.53 L1173.26,566.78 L1179.08,567.02 L1184.91,567.27 L1190.74,567.51 L1196.56,567.75 L1202.39,568.00 L1206.94,568.18" stroke="#00ffff"/>
<path d="M102.10,608.70 L135.90,608.70 L138.23,607.50 L140.56,606.31 L142.89,605.15 L145.22,604.00 L147.55,602.87 L149.88,601.76 L152.21,600.66 L154.54,599.59 L156.88,598.53 L159.21,597.48 L161.54,596.45 L163.87,595.44 L166.20,594.44 L168.53,593.46 L170.86,592.50 L173.19,591.55 L175.52,590.61 L177.85,589.69 L180.18,588.78 L182.52,587.89 L184.85,587.01 L187.18,586.14 L189.51,585.29 L191.84,584.45 L194.17,583.63 L196.50,582.82 L198.83,582.01 L201.16,581.23 L203.49,580.45 L205.82,579.69 L208.16,578.94 L210.49,578.20 L212.82,577.47 L215.15,576.75 L217.48,576.04 L219.81,575.35 L222.14,574.67 L224.47,573.99 L226.80,573.33 L229.13,572.68 L231.46,572.03 L233.79,571.40 L236.13,570.78 L238.46,570.16 L240.79,569.56 L243.12,568.97 L245.45,568.38 L247.78,567.81 L250.11,567.24 L252.44,566.68 L254.77,566.13 L257.10,565.59 L259.43,565.06 L261.77,564.53 L264.10,564.02 L266.43,563.51 L268.76,563.01 L271.09,562.52 L273.42,562.03 L275.75,561.55 L278.08,561.08 L280.41,560.62 L282.74,560.17 L285.07,559.72 L287.40,559.28 L289.74,558.84 L292.07,558.41 L294.40,557.99 L296.73,557.58 L299.06,557.17 L301.39,556.77 L303.72,556.37 L306.05,555.98 L308.38,555.60 L310.71,555.22 L313.04,554.85 L315.38,554.49 L317.71,554.13 L320.04,553.77 L322.37,553.42 L324.70,553.08 L327.03,552.74 L329.36,552.41 L331.69,552.08 L334.02,551.76 L336.35,551.44 L338.68,551.13 L341.02,550.82 L343.35,550.52 L345.68,550.22 L348.01,549.93 L350.34,549.64 L352.67,549.35 L355.00,549.07 L357.33,548.80 L359.66,548.52 L361.99,548.26 L364.32,547.99 L366.65,547.73 L368.99,547.48 L371.32,547.23 L373.65,546.98 L375.98,546.74 L378.31,546.50 L380.64,546.26 L382.97,546.03 L385.30,545.80 L387.63,545.58 L389.96,545.36 L392.29,545.14 L394.63,544.92 L396.96,544.71 L399.29,544.50 L401.62,544.30 L403.95,544.10 L406.28,543.90 L408.61,543.70 L410.94,543.51 L413.27,543.32 L415.60,543.13 L417.93,542.95 L420.27,542.77 L422.60,542.59 L424.93,542.42 L427.26,542.24 L429.59,542.07 L431.92,541.91 L434.25,541.74 L436.58,541.58 L438.91,541.42 L441.24,541.27 L443.57,541.11 L445.90,540.96 L448.24,540.81 L450.57,540.66 L452.90,540.52 L455.23,540.37 L457.56,540.23 L459.89,540.09 L462.22,539.96 L464.55,539.82 L466.88,539.69 L469.21,539.56 L471.54,539.43 L473.88,539.31 L476.21,539.18 L478.54,539.06 L480.87,538.94 L483.20,538.82 L485.53,538.71 L487.86,538.59 L490.19,538.48 L491.47,538.42 L497.30,538.48 L503.13,538.54 L508.96,538.60 L514.78,538.66 L520.61,538.72 L526.44,538.78 L532.26,538.85 L538.09,538.91 L543.92,538.97 L549.75,539.03 L555.57,539.09 L561.40,539.15 L567.23,539.21 L573.05,539.27 L578.88,539.33 L584.71,539.39 L590.54,539.45 L596.36,539.51 L602.19,539.57 L608.02,539.63 L613.84,539.69 L619.67,539.75 L625.50,539.81 L631.33,539.87 L637.15,539.93 L642.98,539.99 L648.81,540.05 L654.64,540.11 L660.46,540.17 L666.29,540.23 L672.12,540.29 L677.94,540.35 L683.77,540.41 L689.60,540.47 L695.43,540.53 L701.25,540.59 L707.08,540.65 L712.91,540.71 L718.73,540.77 L724.56,540.83 L730.39,540.89 L736.22,540.95 L742.04,541.01 L747.87,541.07 L753.70,541.12 L759.52,541.18 L765.35,541.24 L771.18,541.30 L777.01,541.36 L782.83,541.42 L788.66,541.48 L794.49,541.54 L800.32,541.59 L806.14,541.65 L811.97,541.71 L817.80,541.77 L823.62,541.83 L829.45,541.89 L835.28,541.95 L841.11,542.00 L846.93,542.06 L852.76,542.12 L858.59,542.18 L864.41,542.24 L870.24,542.29 L876.07,542.35 L881.90,542.41 L887.72,542.47 L893.55,542.53 L899.38,542.58 L905.20,542.64 L911.03,542.70 L916.86,542.76 L922.69,542.81 L928.51,542.87 L934.34,542.93 L940.17,542.99 L946.00,543.04 L951.82,543.10 L957.65,543.16 L963.48,543.22 L969.30,543.27 L975.13,543.33 L980.96,543.39 L986.79,543.44 L992.61,543.50 L998.44,543.56 L1004.27,543.61 L1010.09,543.67 L1015.92,543.73 L1021.75,543.78 L1027.58,543.84 L1033.40,543.90 L1039.23,543.95 L1045.06,544.01 L1050.88,544.07 L1056.71,544.12 L1062.54,544.18 L1068.37,544.24 L1074.19,544.29 L1080.02,544.35 L1085.85,544.40 L1091.68,544.46 L1097.50,544.52 L1103.33,544.57 L1109.16,544.63 L1114.98,544.68 L1120.81,544.74 L1126.64,544.80 L1132.47,544.85 L1138.29,544.91 L1144.12,544.96 L1149.95,545.02 L1155.77,545.07 L1161.60,545.13 L1167.43,545.19 L1173.26,545.24 L1179.08,545.30 L1184.91,545.35 L1190.74,545.41 L1196.56,545.46 L1202.39,545.52 L1206.94,545.56" stroke="#ff00ff"/>
<path d="M102.10,608.70H1206.94" stroke="#ff0000"/>
<path d="M102.10,608.70 L135.90,608.70 L491.47,649.27 L1206.94,649.27" stroke="#9a0cff"/>
</g>
<rect x="91.15" y="15.0" width="1127.25" height="673.45" fill="none" stroke="#111" stroke-width="1.55"/>
<g font-family="Liberation Sans, sans-serif" font-size="21.4" fill="#000">
<text transform="translate(102.10,725.3) scale(1.22,1)" text-anchor="middle">0</text>
<text transform="translate(218.64,725.3) scale(1.22,1)" text-anchor="middle">200</text>
<text transform="translate(335.19,725.3) scale(1.22,1)" text-anchor="middle">400</text>
<text transform="translate(451.73,725.3) scale(1.22,1)" text-anchor="middle">600</text>
<text transform="translate(568.28,725.3) scale(1.22,1)" text-anchor="middle">800</text>
<text transform="translate(684.82,725.3) scale(1.22,1)" text-anchor="middle">1000</text>
<text transform="translate(801.36,725.3) scale(1.22,1)" text-anchor="middle">1200</text>
<text transform="translate(917.91,725.3) scale(1.22,1)" text-anchor="middle">1400</text>
<text transform="translate(1034.45,725.3) scale(1.22,1)" text-anchor="middle">1600</text>
<text transform="translate(1151.00,725.3) scale(1.22,1)" text-anchor="middle">1800</text>
<text transform="translate(73.9,618.17) scale(1.22,1)" text-anchor="end">0</text>
<text transform="translate(73.9,532.96) scale(1.22,1)" text-anchor="end">2</text>
<text transform="translate(73.9,447.74) scale(1.22,1)" text-anchor="end">4</text>
<text transform="translate(73.9,362.53) scale(1.22,1)" text-anchor="end">6</text>
<text transform="translate(73.9,277.31) scale(1.22,1)" text-anchor="end">8</text>
<text transform="translate(73.9,192.10) scale(1.22,1)" text-anchor="end">10</text>
<text transform="translate(73.9,106.89) scale(1.22,1)" text-anchor="end">12</text>
<text transform="translate(654.8,752.8) scale(1.25,1)" text-anchor="middle">Time(s)</text>
<text transform="translate(36.9,352) rotate(-90) scale(0.965,1.40)" text-anchor="middle">Response unit(RU)</text>
</g>
</g>
</svg>
</body></html>
